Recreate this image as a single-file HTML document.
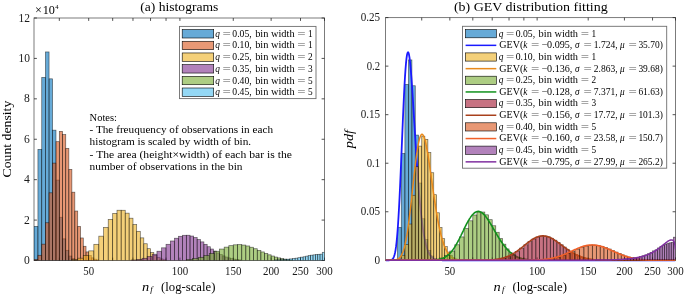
<!DOCTYPE html><html><head><meta charset="utf-8"><style>html,body{margin:0;padding:0;background:#fff;}svg{display:block;filter:blur(0.45px);}</style></head><body><svg width="685" height="296" viewBox="0 0 685 296"><defs><clipPath id="cl"><rect x="34.0" y="18.0" width="290.5" height="242.5"/></clipPath><clipPath id="cr"><rect x="385.5" y="17.6" width="290.0" height="242.7"/></clipPath></defs><rect x="34.0" y="18.0" width="290.5" height="242.5" fill="none" stroke="#6e6e6e" stroke-width="0.9"/><path d="M88.69 260.5v-2.9M88.69 18.0v2.9" stroke="#262626" stroke-width="0.8"/><path d="M179.91 260.5v-2.9M179.91 18.0v2.9" stroke="#262626" stroke-width="0.8"/><path d="M233.27 260.5v-2.9M233.27 18.0v2.9" stroke="#262626" stroke-width="0.8"/><path d="M271.14 260.5v-2.9M271.14 18.0v2.9" stroke="#262626" stroke-width="0.8"/><path d="M300.50 260.5v-2.9M300.50 18.0v2.9" stroke="#262626" stroke-width="0.8"/><path d="M324.50 260.5v-2.9M324.50 18.0v2.9" stroke="#262626" stroke-width="0.8"/><path d="M59.32 260.5v-2.9M59.32 18.0v2.9" stroke="#262626" stroke-width="0.8"/><path d="M112.68 260.5v-2.9M112.68 18.0v2.9" stroke="#262626" stroke-width="0.8"/><path d="M132.97 260.5v-2.9M132.97 18.0v2.9" stroke="#262626" stroke-width="0.8"/><path d="M150.54 260.5v-2.9M150.54 18.0v2.9" stroke="#262626" stroke-width="0.8"/><path d="M166.04 260.5v-2.9M166.04 18.0v2.9" stroke="#262626" stroke-width="0.8"/><path d="M34.0 260.50h2.9M324.5 260.50h-2.9" stroke="#262626" stroke-width="0.8"/><path d="M34.0 220.08h2.9M324.5 220.08h-2.9" stroke="#262626" stroke-width="0.8"/><path d="M34.0 179.67h2.9M324.5 179.67h-2.9" stroke="#262626" stroke-width="0.8"/><path d="M34.0 139.25h2.9M324.5 139.25h-2.9" stroke="#262626" stroke-width="0.8"/><path d="M34.0 98.83h2.9M324.5 98.83h-2.9" stroke="#262626" stroke-width="0.8"/><path d="M34.0 58.42h2.9M324.5 58.42h-2.9" stroke="#262626" stroke-width="0.8"/><path d="M34.0 18.00h2.9M324.5 18.00h-2.9" stroke="#262626" stroke-width="0.8"/><rect x="385.5" y="17.6" width="290.0" height="242.70000000000002" fill="none" stroke="#6e6e6e" stroke-width="0.9"/><path d="M449.84 260.3v-2.9M449.84 17.6v2.9" stroke="#262626" stroke-width="0.8"/><path d="M537.13 260.3v-2.9M537.13 17.6v2.9" stroke="#262626" stroke-width="0.8"/><path d="M588.20 260.3v-2.9M588.20 17.6v2.9" stroke="#262626" stroke-width="0.8"/><path d="M624.43 260.3v-2.9M624.43 17.6v2.9" stroke="#262626" stroke-width="0.8"/><path d="M652.54 260.3v-2.9M652.54 17.6v2.9" stroke="#262626" stroke-width="0.8"/><path d="M675.50 260.3v-2.9M675.50 17.6v2.9" stroke="#262626" stroke-width="0.8"/><path d="M421.73 260.3v-2.9M421.73 17.6v2.9" stroke="#262626" stroke-width="0.8"/><path d="M472.80 260.3v-2.9M472.80 17.6v2.9" stroke="#262626" stroke-width="0.8"/><path d="M492.21 260.3v-2.9M492.21 17.6v2.9" stroke="#262626" stroke-width="0.8"/><path d="M509.03 260.3v-2.9M509.03 17.6v2.9" stroke="#262626" stroke-width="0.8"/><path d="M523.87 260.3v-2.9M523.87 17.6v2.9" stroke="#262626" stroke-width="0.8"/><path d="M385.5 260.30h2.9M675.5 260.30h-2.9" stroke="#262626" stroke-width="0.8"/><path d="M385.5 211.76h2.9M675.5 211.76h-2.9" stroke="#262626" stroke-width="0.8"/><path d="M385.5 163.22h2.9M675.5 163.22h-2.9" stroke="#262626" stroke-width="0.8"/><path d="M385.5 114.68h2.9M675.5 114.68h-2.9" stroke="#262626" stroke-width="0.8"/><path d="M385.5 66.14h2.9M675.5 66.14h-2.9" stroke="#262626" stroke-width="0.8"/><path d="M385.5 17.60h2.9M675.5 17.60h-2.9" stroke="#262626" stroke-width="0.8"/><g clip-path="url(#cl)"><g fill="#0072BD" fill-opacity="0.6" stroke="#000" stroke-width="0.7" stroke-opacity="0.58"><rect x="34.00" y="226.35" width="3.93" height="34.15"/><rect x="37.93" y="149.35" width="3.82" height="111.15"/><rect x="41.74" y="77.41" width="3.71" height="183.09"/><rect x="45.45" y="51.95" width="3.61" height="208.55"/><rect x="49.06" y="78.83" width="3.51" height="181.67"/><rect x="52.57" y="130.16" width="3.42" height="130.34"/><rect x="55.99" y="180.07" width="3.33" height="80.43"/><rect x="59.32" y="217.25" width="3.25" height="43.25"/><rect x="62.57" y="238.85" width="3.17" height="21.65"/><rect x="65.74" y="250.29" width="3.10" height="10.21"/><rect x="68.84" y="256.04" width="3.03" height="4.46"/><rect x="71.86" y="258.71" width="2.96" height="1.79"/><rect x="74.82" y="259.85" width="2.89" height="0.65"/></g><g fill="#D95319" fill-opacity="0.6" stroke="#000" stroke-width="0.7" stroke-opacity="0.58"><rect x="34.00" y="259.35" width="3.93" height="1.15"/><rect x="37.93" y="255.29" width="3.82" height="5.21"/><rect x="41.74" y="244.15" width="3.71" height="16.35"/><rect x="45.45" y="222.76" width="3.61" height="37.74"/><rect x="49.06" y="192.82" width="3.51" height="67.68"/><rect x="52.57" y="163.10" width="3.42" height="97.40"/><rect x="55.99" y="141.68" width="3.33" height="118.82"/><rect x="59.32" y="131.37" width="3.25" height="129.13"/><rect x="62.57" y="134.60" width="3.17" height="125.90"/><rect x="65.74" y="148.34" width="3.10" height="112.16"/><rect x="68.84" y="169.36" width="3.03" height="91.14"/><rect x="71.86" y="192.20" width="2.96" height="68.30"/><rect x="74.82" y="211.04" width="2.89" height="49.46"/><rect x="77.71" y="226.36" width="2.83" height="34.14"/><rect x="80.54" y="237.97" width="2.77" height="22.53"/><rect x="83.31" y="246.28" width="2.71" height="14.22"/><rect x="86.03" y="251.93" width="2.66" height="8.57"/><rect x="88.69" y="255.59" width="2.61" height="4.91"/><rect x="91.29" y="257.85" width="2.56" height="2.65"/><rect x="93.85" y="259.16" width="2.51" height="1.34"/><rect x="96.35" y="259.88" width="2.46" height="0.62"/></g><g fill="#EDB120" fill-opacity="0.6" stroke="#000" stroke-width="0.7" stroke-opacity="0.58"><rect x="71.86" y="259.59" width="5.85" height="0.91"/><rect x="77.71" y="258.18" width="5.60" height="2.32"/><rect x="83.31" y="255.44" width="5.37" height="5.06"/><rect x="88.69" y="250.87" width="5.16" height="9.63"/><rect x="93.85" y="244.31" width="4.97" height="16.19"/><rect x="98.81" y="236.17" width="4.79" height="24.33"/><rect x="103.60" y="227.42" width="4.62" height="33.08"/><rect x="108.22" y="219.39" width="4.46" height="41.11"/><rect x="112.68" y="213.37" width="4.32" height="47.13"/><rect x="117.00" y="210.24" width="4.18" height="50.26"/><rect x="121.18" y="210.27" width="4.05" height="50.23"/><rect x="125.23" y="213.16" width="3.93" height="47.34"/><rect x="129.15" y="218.21" width="3.82" height="42.29"/><rect x="132.97" y="224.55" width="3.71" height="35.95"/><rect x="136.68" y="231.33" width="3.61" height="29.17"/><rect x="140.28" y="237.88" width="3.51" height="22.62"/><rect x="143.79" y="243.74" width="3.42" height="16.76"/><rect x="147.21" y="248.66" width="3.33" height="11.84"/><rect x="150.54" y="252.56" width="3.25" height="7.94"/><rect x="153.79" y="255.49" width="3.17" height="5.01"/><rect x="156.96" y="257.56" width="3.10" height="2.94"/><rect x="160.06" y="258.93" width="3.03" height="1.57"/><rect x="163.09" y="259.76" width="2.96" height="0.74"/></g><g fill="#7E2F8E" fill-opacity="0.6" stroke="#000" stroke-width="0.7" stroke-opacity="0.58"><rect x="131.08" y="259.98" width="5.60" height="0.52"/><rect x="136.68" y="259.36" width="5.37" height="1.14"/><rect x="142.05" y="258.28" width="5.16" height="2.22"/><rect x="147.21" y="256.59" width="4.97" height="3.91"/><rect x="152.18" y="254.22" width="4.79" height="6.28"/><rect x="156.96" y="251.24" width="4.62" height="9.26"/><rect x="161.58" y="247.84" width="4.46" height="12.66"/><rect x="166.04" y="244.30" width="4.32" height="16.20"/><rect x="170.36" y="240.99" width="4.18" height="19.51"/><rect x="174.54" y="238.24" width="4.05" height="22.26"/><rect x="178.59" y="236.29" width="3.93" height="24.21"/><rect x="182.52" y="235.29" width="3.82" height="25.21"/><rect x="186.33" y="235.24" width="3.71" height="25.26"/><rect x="190.04" y="236.05" width="3.61" height="24.45"/><rect x="193.65" y="237.56" width="3.51" height="22.94"/><rect x="197.16" y="239.57" width="3.42" height="20.93"/><rect x="200.57" y="241.89" width="3.33" height="18.61"/><rect x="203.91" y="244.33" width="3.25" height="16.17"/><rect x="207.16" y="246.74" width="3.17" height="13.76"/><rect x="210.33" y="249.03" width="3.10" height="11.47"/><rect x="213.42" y="251.12" width="3.03" height="9.38"/><rect x="216.45" y="252.97" width="2.96" height="7.53"/><rect x="219.41" y="254.56" width="2.89" height="5.94"/><rect x="222.30" y="255.89" width="2.83" height="4.61"/><rect x="225.13" y="257.00" width="2.77" height="3.50"/><rect x="227.90" y="257.89" width="2.71" height="2.61"/><rect x="230.62" y="258.59" width="2.66" height="1.91"/><rect x="233.27" y="259.13" width="2.61" height="1.37"/><rect x="235.88" y="259.54" width="2.56" height="0.96"/><rect x="238.44" y="259.85" width="2.51" height="0.65"/></g><g fill="#77AC30" fill-opacity="0.6" stroke="#000" stroke-width="0.7" stroke-opacity="0.58"><rect x="186.33" y="259.50" width="6.12" height="1.00"/><rect x="192.46" y="258.63" width="5.85" height="1.87"/><rect x="198.31" y="257.33" width="5.60" height="3.17"/><rect x="203.91" y="255.60" width="5.37" height="4.90"/><rect x="209.28" y="253.52" width="5.16" height="6.98"/><rect x="214.44" y="251.26" width="4.97" height="9.24"/><rect x="219.41" y="249.05" width="4.79" height="11.45"/><rect x="224.19" y="247.12" width="4.62" height="13.38"/><rect x="228.81" y="245.67" width="4.46" height="14.83"/><rect x="233.27" y="244.83" width="4.32" height="15.67"/><rect x="237.59" y="244.64" width="4.18" height="15.86"/><rect x="241.77" y="245.05" width="4.05" height="15.45"/><rect x="245.82" y="245.96" width="3.93" height="14.54"/><rect x="249.75" y="247.24" width="3.82" height="13.26"/><rect x="253.56" y="248.74" width="3.71" height="11.76"/><rect x="257.27" y="250.35" width="3.61" height="10.15"/><rect x="260.88" y="251.94" width="3.51" height="8.56"/><rect x="264.39" y="253.45" width="3.42" height="7.05"/><rect x="267.80" y="254.82" width="3.33" height="5.68"/><rect x="271.14" y="256.02" width="3.25" height="4.48"/><rect x="274.39" y="257.05" width="3.17" height="3.45"/><rect x="277.56" y="257.89" width="3.10" height="2.61"/><rect x="280.65" y="258.58" width="3.03" height="1.92"/><rect x="283.68" y="259.12" width="2.96" height="1.38"/><rect x="286.64" y="259.53" width="2.89" height="0.97"/><rect x="289.53" y="259.84" width="2.83" height="0.66"/></g><g fill="#4DBEEE" fill-opacity="0.6" stroke="#000" stroke-width="0.7" stroke-opacity="0.58"><rect x="274.39" y="259.93" width="3.17" height="0.57"/><rect x="277.56" y="259.79" width="3.10" height="0.71"/><rect x="280.65" y="259.62" width="3.03" height="0.88"/><rect x="283.68" y="259.42" width="2.96" height="1.08"/><rect x="286.64" y="259.19" width="2.89" height="1.31"/><rect x="289.53" y="258.90" width="2.83" height="1.60"/><rect x="292.36" y="258.57" width="2.77" height="1.93"/><rect x="295.13" y="258.17" width="2.71" height="2.33"/><rect x="297.85" y="257.68" width="2.66" height="2.82"/><rect x="300.50" y="257.17" width="2.61" height="3.33"/><rect x="303.11" y="256.79" width="2.56" height="3.71"/><rect x="305.67" y="256.14" width="2.51" height="4.36"/><rect x="308.17" y="255.55" width="2.46" height="4.95"/><rect x="310.63" y="255.18" width="2.41" height="5.32"/><rect x="313.05" y="254.87" width="2.37" height="5.63"/><rect x="315.42" y="254.56" width="2.33" height="5.94"/><rect x="317.75" y="254.32" width="2.29" height="6.18"/><rect x="320.04" y="254.14" width="2.25" height="6.36"/><rect x="322.29" y="252.32" width="2.21" height="8.18"/></g></g><defs><clipPath id="cr2"><rect x="385.5" y="17.6" width="290.0" height="245.2"/></clipPath></defs><g clip-path="url(#cr)"><g fill="#0072BD" fill-opacity="0.6" stroke="#000" stroke-width="0.7" stroke-opacity="0.58"><rect x="397.50" y="227.49" width="3.76" height="32.81"/><rect x="401.26" y="153.51" width="3.65" height="106.79"/><rect x="404.91" y="84.39" width="3.55" height="175.91"/><rect x="408.46" y="59.93" width="3.45" height="200.37"/><rect x="411.91" y="85.75" width="3.36" height="174.55"/><rect x="415.27" y="135.07" width="3.27" height="125.23"/><rect x="418.54" y="183.02" width="3.19" height="77.28"/><rect x="421.73" y="218.75" width="3.11" height="41.55"/><rect x="424.84" y="239.49" width="3.03" height="20.81"/><rect x="427.88" y="250.49" width="2.96" height="9.81"/><rect x="430.84" y="256.02" width="2.90" height="4.28"/><rect x="433.74" y="258.58" width="2.83" height="1.72"/><rect x="436.57" y="259.67" width="2.77" height="0.63"/></g></g><polyline clip-path="url(#cr2)" fill="none" stroke="#1a1aff" stroke-width="1.8" stroke-linejoin="round" points="385.5,260.3 386.0,260.3 386.5,260.3 387.0,260.3 387.5,260.3 388.0,260.3 388.5,260.3 389.0,260.3 389.5,260.2 390.0,260.2 390.5,260.1 391.0,260.0 391.5,259.8 392.0,259.6 392.5,259.1 393.0,258.6 393.5,257.7 394.0,256.5 394.5,255.0 395.0,252.9 395.5,250.3 396.0,246.9 396.5,242.8 397.0,237.8 397.5,231.9 398.0,225.0 398.5,217.1 399.0,208.3 399.5,198.6 400.0,188.1 400.5,176.9 401.0,165.1 401.5,153.1 402.0,140.9 402.5,128.8 403.0,117.0 403.5,105.7 404.0,95.1 404.5,85.4 405.0,76.8 405.5,69.4 406.0,63.2 406.5,58.4 407.0,54.9 407.5,52.9 408.0,52.2 408.5,52.8 409.0,54.6 409.5,57.6 410.0,61.7 410.5,66.7 411.0,72.5 411.5,78.9 412.0,86.0 412.5,93.5 413.0,101.3 413.5,109.4 414.0,117.6 414.5,125.9 415.0,134.1 415.5,142.2 416.0,150.1 416.5,157.9 417.0,165.4 417.5,172.6 418.0,179.5 418.5,186.0 419.0,192.2 419.5,198.1 420.0,203.5 420.5,208.7 421.0,213.5 421.5,217.9 422.0,222.1 422.5,225.9 423.0,229.4 423.5,232.6 424.0,235.5 424.5,238.2 425.0,240.6 425.5,242.8 426.0,244.8 426.5,246.6 427.0,248.3 427.5,249.7 428.0,251.0 428.5,252.2 429.0,253.2 429.5,254.2 430.0,255.0 430.5,255.7 431.0,256.3 431.5,256.9 432.0,257.4 432.5,257.8 433.0,258.2 433.5,258.5 434.0,258.8 434.5,259.0 435.0,259.2 435.5,259.4 436.0,259.6 436.5,259.7 437.0,259.8 437.5,259.9 438.0,260.0 438.5,260.0 439.0,260.1 439.5,260.1 440.0,260.2 440.5,260.2 441.0,260.2 441.5,260.2 442.0,260.2 442.5,260.3 443.0,260.3 443.5,260.3 444.0,260.3 444.5,260.3 445.0,260.3 445.5,260.3 446.0,260.3 446.5,260.3 447.0,260.3 447.5,260.3 448.0,260.3 448.5,260.3 449.0,260.3 449.5,260.3 450.0,260.3 450.5,260.3 451.0,260.3 451.5,260.3 452.0,260.3 452.5,260.3 453.0,260.3 453.5,260.3 454.0,260.3 454.5,260.3 455.0,260.3 455.5,260.3 456.0,260.3 456.5,260.3 457.0,260.3 457.5,260.3 458.0,260.3 458.5,260.3 459.0,260.3 459.5,260.3 460.0,260.3 460.5,260.3 461.0,260.3 461.5,260.3 462.0,260.3 462.5,260.3 463.0,260.3 463.5,260.3 464.0,260.3 464.5,260.3 465.0,260.3 465.5,260.3 466.0,260.3 466.5,260.3 467.0,260.3 467.5,260.3 468.0,260.3 468.5,260.3 469.0,260.3 469.5,260.3 470.0,260.3 470.5,260.3 471.0,260.3 471.5,260.3 472.0,260.3 472.5,260.3 473.0,260.3 473.5,260.3 474.0,260.3 474.5,260.3 475.0,260.3 475.5,260.3 476.0,260.3 476.5,260.3 477.0,260.3 477.5,260.3 478.0,260.3 478.5,260.3 479.0,260.3 479.5,260.3 480.0,260.3 480.5,260.3 481.0,260.3 481.5,260.3 482.0,260.3 482.5,260.3 483.0,260.3 483.5,260.3 484.0,260.3 484.5,260.3 485.0,260.3 485.5,260.3 486.0,260.3 486.5,260.3 487.0,260.3 487.5,260.3 488.0,260.3 488.5,260.3 489.0,260.3 489.5,260.3 490.0,260.3 490.5,260.3 491.0,260.3 491.5,260.3 492.0,260.3 492.5,260.3 493.0,260.3 493.5,260.3 494.0,260.3 494.5,260.3 495.0,260.3 495.5,260.3 496.0,260.3 496.5,260.3 497.0,260.3 497.5,260.3 498.0,260.3 498.5,260.3 499.0,260.3 499.5,260.3 500.0,260.3 500.5,260.3 501.0,260.3 501.5,260.3 502.0,260.3 502.5,260.3 503.0,260.3 503.5,260.3 504.0,260.3 504.5,260.3 505.0,260.3 505.5,260.3 506.0,260.3 506.5,260.3 507.0,260.3 507.5,260.3 508.0,260.3 508.5,260.3 509.0,260.3 509.5,260.3 510.0,260.3 510.5,260.3 511.0,260.3 511.5,260.3 512.0,260.3 512.5,260.3 513.0,260.3 513.5,260.3 514.0,260.3 514.5,260.3 515.0,260.3 515.5,260.3 516.0,260.3 516.5,260.3 517.0,260.3 517.5,260.3 518.0,260.3 518.5,260.3 519.0,260.3 519.5,260.3 520.0,260.3 520.5,260.3 521.0,260.3 521.5,260.3 522.0,260.3 522.5,260.3 523.0,260.3 523.5,260.3 524.0,260.3 524.5,260.3 525.0,260.3 525.5,260.3 526.0,260.3 526.5,260.3 527.0,260.3 527.5,260.3 528.0,260.3 528.5,260.3 529.0,260.3 529.5,260.3 530.0,260.3 530.5,260.3 531.0,260.3 531.5,260.3 532.0,260.3 532.5,260.3 533.0,260.3 533.5,260.3 534.0,260.3 534.5,260.3 535.0,260.3 535.5,260.3 536.0,260.3 536.5,260.3 537.0,260.3 537.5,260.3 538.0,260.3 538.5,260.3 539.0,260.3 539.5,260.3 540.0,260.3 540.5,260.3 541.0,260.3 541.5,260.3 542.0,260.3 542.5,260.3 543.0,260.3 543.5,260.3 544.0,260.3 544.5,260.3 545.0,260.3 545.5,260.3 546.0,260.3 546.5,260.3 547.0,260.3 547.5,260.3 548.0,260.3 548.5,260.3 549.0,260.3 549.5,260.3 550.0,260.3 550.5,260.3 551.0,260.3 551.5,260.3 552.0,260.3 552.5,260.3 553.0,260.3 553.5,260.3 554.0,260.3 554.5,260.3 555.0,260.3 555.5,260.3 556.0,260.3 556.5,260.3 557.0,260.3 557.5,260.3 558.0,260.3 558.5,260.3 559.0,260.3 559.5,260.3 560.0,260.3 560.5,260.3 561.0,260.3 561.5,260.3 562.0,260.3 562.5,260.3 563.0,260.3 563.5,260.3 564.0,260.3 564.5,260.3 565.0,260.3 565.5,260.3 566.0,260.3 566.5,260.3 567.0,260.3 567.5,260.3 568.0,260.3 568.5,260.3 569.0,260.3 569.5,260.3 570.0,260.3 570.5,260.3 571.0,260.3 571.5,260.3 572.0,260.3 572.5,260.3 573.0,260.3 573.5,260.3 574.0,260.3 574.5,260.3 575.0,260.3 575.5,260.3 576.0,260.3 576.5,260.3 577.0,260.3 577.5,260.3 578.0,260.3 578.5,260.3 579.0,260.3 579.5,260.3 580.0,260.3 580.5,260.3 581.0,260.3 581.5,260.3 582.0,260.3 582.5,260.3 583.0,260.3 583.5,260.3 584.0,260.3 584.5,260.3 585.0,260.3 585.5,260.3 586.0,260.3 586.5,260.3 587.0,260.3 587.5,260.3 588.0,260.3 588.5,260.3 589.0,260.3 589.5,260.3 590.0,260.3 590.5,260.3 591.0,260.3 591.5,260.3 592.0,260.3 592.5,260.3 593.0,260.3 593.5,260.3 594.0,260.3 594.5,260.3 595.0,260.3 595.5,260.3 596.0,260.3 596.5,260.3 597.0,260.3 597.5,260.3 598.0,260.3 598.5,260.3 599.0,260.3 599.5,260.3 600.0,260.3 600.5,260.3 601.0,260.3 601.5,260.3 602.0,260.3 602.5,260.3 603.0,260.3 603.5,260.3 604.0,260.3 604.5,260.3 605.0,260.3 605.5,260.3 606.0,260.3 606.5,260.3 607.0,260.3 607.5,260.3 608.0,260.3 608.5,260.3 609.0,260.3 609.5,260.3 610.0,260.3 610.5,260.3 611.0,260.3 611.5,260.3 612.0,260.3 612.5,260.3 613.0,260.3 613.5,260.3 614.0,260.3 614.5,260.3 615.0,260.3 615.5,260.3 616.0,260.3 616.5,260.3 617.0,260.3 617.5,260.3 618.0,260.3 618.5,260.3 619.0,260.3 619.5,260.3 620.0,260.3 620.5,260.3 621.0,260.3 621.5,260.3 622.0,260.3 622.5,260.3 623.0,260.3 623.5,260.3 624.0,260.3 624.5,260.3 625.0,260.3 625.5,260.3 626.0,260.3 626.5,260.3 627.0,260.3 627.5,260.3 628.0,260.3 628.5,260.3 629.0,260.3 629.5,260.3 630.0,260.3 630.5,260.3 631.0,260.3 631.5,260.3 632.0,260.3 632.5,260.3 633.0,260.3 633.5,260.3 634.0,260.3 634.5,260.3 635.0,260.3 635.5,260.3 636.0,260.3 636.5,260.3 637.0,260.3 637.5,260.3 638.0,260.3 638.5,260.3 639.0,260.3 639.5,260.3 640.0,260.3 640.5,260.3 641.0,260.3 641.5,260.3 642.0,260.3 642.5,260.3 643.0,260.3 643.5,260.3 644.0,260.3 644.5,260.3 645.0,260.3 645.5,260.3 646.0,260.3 646.5,260.3 647.0,260.3 647.5,260.3 648.0,260.3 648.5,260.3 649.0,260.3 649.5,260.3 650.0,260.3 650.5,260.3 651.0,260.3 651.5,260.3 652.0,260.3 652.5,260.3 653.0,260.3 653.5,260.3 654.0,260.3 654.5,260.3 655.0,260.3 655.5,260.3 656.0,260.3 656.5,260.3 657.0,260.3 657.5,260.3 658.0,260.3 658.5,260.3 659.0,260.3 659.5,260.3 660.0,260.3 660.5,260.3 661.0,260.3 661.5,260.3 662.0,260.3 662.5,260.3 663.0,260.3 663.5,260.3 664.0,260.3 664.5,260.3 665.0,260.3 665.5,260.3 666.0,260.3 666.5,260.3 667.0,260.3 667.5,260.3 668.0,260.3 668.5,260.3 669.0,260.3 669.5,260.3 670.0,260.3 670.5,260.3 671.0,260.3 671.5,260.3 672.0,260.3 672.5,260.3 673.0,260.3 673.5,260.3 674.0,260.3 674.5,260.3 675.0,260.3 675.5,260.3"/><g clip-path="url(#cr)"><g fill="#EDB120" fill-opacity="0.6" stroke="#000" stroke-width="0.7" stroke-opacity="0.58"><rect x="397.50" y="259.20" width="3.76" height="1.10"/><rect x="401.26" y="255.29" width="3.65" height="5.01"/><rect x="404.91" y="244.59" width="3.55" height="15.71"/><rect x="408.46" y="224.04" width="3.45" height="36.26"/><rect x="411.91" y="195.28" width="3.36" height="65.02"/><rect x="415.27" y="166.71" width="3.27" height="93.59"/><rect x="418.54" y="146.13" width="3.19" height="114.17"/><rect x="421.73" y="136.23" width="3.11" height="124.07"/><rect x="424.84" y="139.34" width="3.03" height="120.96"/><rect x="427.88" y="152.54" width="2.96" height="107.76"/><rect x="430.84" y="172.73" width="2.90" height="87.57"/><rect x="433.74" y="194.68" width="2.83" height="65.62"/><rect x="436.57" y="212.78" width="2.77" height="47.52"/><rect x="439.33" y="227.50" width="2.71" height="32.80"/><rect x="442.04" y="238.66" width="2.65" height="21.64"/><rect x="444.69" y="246.64" width="2.60" height="13.66"/><rect x="447.29" y="252.07" width="2.54" height="8.23"/><rect x="449.84" y="255.59" width="2.49" height="4.71"/><rect x="452.33" y="257.75" width="2.45" height="2.55"/><rect x="454.78" y="259.01" width="2.40" height="1.29"/><rect x="457.17" y="259.70" width="2.35" height="0.60"/></g></g><polyline clip-path="url(#cr2)" fill="none" stroke="#e8891c" stroke-width="1.5" stroke-linejoin="round" points="385.5,260.3 386.0,260.3 386.5,260.3 387.0,260.3 387.5,260.3 388.0,260.3 388.5,260.3 389.0,260.3 389.5,260.3 390.0,260.3 390.5,260.3 391.0,260.3 391.5,260.3 392.0,260.3 392.5,260.2 393.0,260.2 393.5,260.2 394.0,260.1 394.5,260.1 395.0,260.0 395.5,259.9 396.0,259.8 396.5,259.7 397.0,259.5 397.5,259.3 398.0,259.1 398.5,258.7 399.0,258.4 399.5,257.9 400.0,257.4 400.5,256.8 401.0,256.0 401.5,255.2 402.0,254.2 402.5,253.0 403.0,251.7 403.5,250.2 404.0,248.6 404.5,246.7 405.0,244.7 405.5,242.4 406.0,239.9 406.5,237.2 407.0,234.3 407.5,231.1 408.0,227.7 408.5,224.1 409.0,220.4 409.5,216.4 410.0,212.3 410.5,208.0 411.0,203.6 411.5,199.1 412.0,194.5 412.5,189.9 413.0,185.3 413.5,180.7 414.0,176.2 414.5,171.8 415.0,167.4 415.5,163.3 416.0,159.3 416.5,155.6 417.0,152.0 417.5,148.8 418.0,145.8 418.5,143.2 419.0,140.9 419.5,138.9 420.0,137.3 420.5,136.0 421.0,135.1 421.5,134.5 422.0,134.3 422.5,134.5 423.0,135.0 423.5,135.8 424.0,137.0 424.5,138.4 425.0,140.1 425.5,142.1 426.0,144.4 426.5,146.8 427.0,149.5 427.5,152.3 428.0,155.3 428.5,158.5 429.0,161.8 429.5,165.1 430.0,168.5 430.5,172.0 431.0,175.6 431.5,179.1 432.0,182.7 432.5,186.2 433.0,189.7 433.5,193.2 434.0,196.6 434.5,199.9 435.0,203.2 435.5,206.4 436.0,209.5 436.5,212.5 437.0,215.4 437.5,218.3 438.0,221.0 438.5,223.6 439.0,226.0 439.5,228.4 440.0,230.7 440.5,232.8 441.0,234.9 441.5,236.8 442.0,238.6 442.5,240.4 443.0,242.0 443.5,243.5 444.0,244.9 444.5,246.3 445.0,247.5 445.5,248.7 446.0,249.7 446.5,250.7 447.0,251.6 447.5,252.5 448.0,253.3 448.5,254.0 449.0,254.7 449.5,255.3 450.0,255.8 450.5,256.3 451.0,256.8 451.5,257.2 452.0,257.6 452.5,257.9 453.0,258.2 453.5,258.5 454.0,258.7 454.5,258.9 455.0,259.1 455.5,259.3 456.0,259.4 456.5,259.6 457.0,259.7 457.5,259.8 458.0,259.9 458.5,259.9 459.0,260.0 459.5,260.1 460.0,260.1 460.5,260.1 461.0,260.2 461.5,260.2 462.0,260.2 462.5,260.2 463.0,260.3 463.5,260.3 464.0,260.3 464.5,260.3 465.0,260.3 465.5,260.3 466.0,260.3 466.5,260.3 467.0,260.3 467.5,260.3 468.0,260.3 468.5,260.3 469.0,260.3 469.5,260.3 470.0,260.3 470.5,260.3 471.0,260.3 471.5,260.3 472.0,260.3 472.5,260.3 473.0,260.3 473.5,260.3 474.0,260.3 474.5,260.3 475.0,260.3 475.5,260.3 476.0,260.3 476.5,260.3 477.0,260.3 477.5,260.3 478.0,260.3 478.5,260.3 479.0,260.3 479.5,260.3 480.0,260.3 480.5,260.3 481.0,260.3 481.5,260.3 482.0,260.3 482.5,260.3 483.0,260.3 483.5,260.3 484.0,260.3 484.5,260.3 485.0,260.3 485.5,260.3 486.0,260.3 486.5,260.3 487.0,260.3 487.5,260.3 488.0,260.3 488.5,260.3 489.0,260.3 489.5,260.3 490.0,260.3 490.5,260.3 491.0,260.3 491.5,260.3 492.0,260.3 492.5,260.3 493.0,260.3 493.5,260.3 494.0,260.3 494.5,260.3 495.0,260.3 495.5,260.3 496.0,260.3 496.5,260.3 497.0,260.3 497.5,260.3 498.0,260.3 498.5,260.3 499.0,260.3 499.5,260.3 500.0,260.3 500.5,260.3 501.0,260.3 501.5,260.3 502.0,260.3 502.5,260.3 503.0,260.3 503.5,260.3 504.0,260.3 504.5,260.3 505.0,260.3 505.5,260.3 506.0,260.3 506.5,260.3 507.0,260.3 507.5,260.3 508.0,260.3 508.5,260.3 509.0,260.3 509.5,260.3 510.0,260.3 510.5,260.3 511.0,260.3 511.5,260.3 512.0,260.3 512.5,260.3 513.0,260.3 513.5,260.3 514.0,260.3 514.5,260.3 515.0,260.3 515.5,260.3 516.0,260.3 516.5,260.3 517.0,260.3 517.5,260.3 518.0,260.3 518.5,260.3 519.0,260.3 519.5,260.3 520.0,260.3 520.5,260.3 521.0,260.3 521.5,260.3 522.0,260.3 522.5,260.3 523.0,260.3 523.5,260.3 524.0,260.3 524.5,260.3 525.0,260.3 525.5,260.3 526.0,260.3 526.5,260.3 527.0,260.3 527.5,260.3 528.0,260.3 528.5,260.3 529.0,260.3 529.5,260.3 530.0,260.3 530.5,260.3 531.0,260.3 531.5,260.3 532.0,260.3 532.5,260.3 533.0,260.3 533.5,260.3 534.0,260.3 534.5,260.3 535.0,260.3 535.5,260.3 536.0,260.3 536.5,260.3 537.0,260.3 537.5,260.3 538.0,260.3 538.5,260.3 539.0,260.3 539.5,260.3 540.0,260.3 540.5,260.3 541.0,260.3 541.5,260.3 542.0,260.3 542.5,260.3 543.0,260.3 543.5,260.3 544.0,260.3 544.5,260.3 545.0,260.3 545.5,260.3 546.0,260.3 546.5,260.3 547.0,260.3 547.5,260.3 548.0,260.3 548.5,260.3 549.0,260.3 549.5,260.3 550.0,260.3 550.5,260.3 551.0,260.3 551.5,260.3 552.0,260.3 552.5,260.3 553.0,260.3 553.5,260.3 554.0,260.3 554.5,260.3 555.0,260.3 555.5,260.3 556.0,260.3 556.5,260.3 557.0,260.3 557.5,260.3 558.0,260.3 558.5,260.3 559.0,260.3 559.5,260.3 560.0,260.3 560.5,260.3 561.0,260.3 561.5,260.3 562.0,260.3 562.5,260.3 563.0,260.3 563.5,260.3 564.0,260.3 564.5,260.3 565.0,260.3 565.5,260.3 566.0,260.3 566.5,260.3 567.0,260.3 567.5,260.3 568.0,260.3 568.5,260.3 569.0,260.3 569.5,260.3 570.0,260.3 570.5,260.3 571.0,260.3 571.5,260.3 572.0,260.3 572.5,260.3 573.0,260.3 573.5,260.3 574.0,260.3 574.5,260.3 575.0,260.3 575.5,260.3 576.0,260.3 576.5,260.3 577.0,260.3 577.5,260.3 578.0,260.3 578.5,260.3 579.0,260.3 579.5,260.3 580.0,260.3 580.5,260.3 581.0,260.3 581.5,260.3 582.0,260.3 582.5,260.3 583.0,260.3 583.5,260.3 584.0,260.3 584.5,260.3 585.0,260.3 585.5,260.3 586.0,260.3 586.5,260.3 587.0,260.3 587.5,260.3 588.0,260.3 588.5,260.3 589.0,260.3 589.5,260.3 590.0,260.3 590.5,260.3 591.0,260.3 591.5,260.3 592.0,260.3 592.5,260.3 593.0,260.3 593.5,260.3 594.0,260.3 594.5,260.3 595.0,260.3 595.5,260.3 596.0,260.3 596.5,260.3 597.0,260.3 597.5,260.3 598.0,260.3 598.5,260.3 599.0,260.3 599.5,260.3 600.0,260.3 600.5,260.3 601.0,260.3 601.5,260.3 602.0,260.3 602.5,260.3 603.0,260.3 603.5,260.3 604.0,260.3 604.5,260.3 605.0,260.3 605.5,260.3 606.0,260.3 606.5,260.3 607.0,260.3 607.5,260.3 608.0,260.3 608.5,260.3 609.0,260.3 609.5,260.3 610.0,260.3 610.5,260.3 611.0,260.3 611.5,260.3 612.0,260.3 612.5,260.3 613.0,260.3 613.5,260.3 614.0,260.3 614.5,260.3 615.0,260.3 615.5,260.3 616.0,260.3 616.5,260.3 617.0,260.3 617.5,260.3 618.0,260.3 618.5,260.3 619.0,260.3 619.5,260.3 620.0,260.3 620.5,260.3 621.0,260.3 621.5,260.3 622.0,260.3 622.5,260.3 623.0,260.3 623.5,260.3 624.0,260.3 624.5,260.3 625.0,260.3 625.5,260.3 626.0,260.3 626.5,260.3 627.0,260.3 627.5,260.3 628.0,260.3 628.5,260.3 629.0,260.3 629.5,260.3 630.0,260.3 630.5,260.3 631.0,260.3 631.5,260.3 632.0,260.3 632.5,260.3 633.0,260.3 633.5,260.3 634.0,260.3 634.5,260.3 635.0,260.3 635.5,260.3 636.0,260.3 636.5,260.3 637.0,260.3 637.5,260.3 638.0,260.3 638.5,260.3 639.0,260.3 639.5,260.3 640.0,260.3 640.5,260.3 641.0,260.3 641.5,260.3 642.0,260.3 642.5,260.3 643.0,260.3 643.5,260.3 644.0,260.3 644.5,260.3 645.0,260.3 645.5,260.3 646.0,260.3 646.5,260.3 647.0,260.3 647.5,260.3 648.0,260.3 648.5,260.3 649.0,260.3 649.5,260.3 650.0,260.3 650.5,260.3 651.0,260.3 651.5,260.3 652.0,260.3 652.5,260.3 653.0,260.3 653.5,260.3 654.0,260.3 654.5,260.3 655.0,260.3 655.5,260.3 656.0,260.3 656.5,260.3 657.0,260.3 657.5,260.3 658.0,260.3 658.5,260.3 659.0,260.3 659.5,260.3 660.0,260.3 660.5,260.3 661.0,260.3 661.5,260.3 662.0,260.3 662.5,260.3 663.0,260.3 663.5,260.3 664.0,260.3 664.5,260.3 665.0,260.3 665.5,260.3 666.0,260.3 666.5,260.3 667.0,260.3 667.5,260.3 668.0,260.3 668.5,260.3 669.0,260.3 669.5,260.3 670.0,260.3 670.5,260.3 671.0,260.3 671.5,260.3 672.0,260.3 672.5,260.3 673.0,260.3 673.5,260.3 674.0,260.3 674.5,260.3 675.0,260.3 675.5,260.3"/><g clip-path="url(#cr)"><g fill="#77AC30" fill-opacity="0.6" stroke="#000" stroke-width="0.7" stroke-opacity="0.58"><rect x="433.74" y="259.42" width="5.60" height="0.88"/><rect x="439.33" y="258.07" width="5.36" height="2.23"/><rect x="444.69" y="255.44" width="5.14" height="4.86"/><rect x="449.84" y="251.05" width="4.94" height="9.25"/><rect x="454.78" y="244.75" width="4.75" height="15.55"/><rect x="459.53" y="236.92" width="4.58" height="23.38"/><rect x="464.11" y="228.52" width="4.42" height="31.78"/><rect x="468.53" y="220.80" width="4.27" height="39.50"/><rect x="472.80" y="215.02" width="4.13" height="45.28"/><rect x="476.93" y="212.01" width="4.00" height="48.29"/><rect x="480.93" y="212.04" width="3.88" height="48.26"/><rect x="484.80" y="214.82" width="3.76" height="45.48"/><rect x="488.56" y="219.67" width="3.65" height="40.63"/><rect x="492.21" y="225.76" width="3.55" height="34.54"/><rect x="495.76" y="232.28" width="3.45" height="28.02"/><rect x="499.21" y="238.57" width="3.36" height="21.73"/><rect x="502.57" y="244.20" width="3.27" height="16.10"/><rect x="505.84" y="248.92" width="3.19" height="11.38"/><rect x="509.03" y="252.67" width="3.11" height="7.63"/><rect x="512.14" y="255.48" width="3.03" height="4.82"/><rect x="515.18" y="257.47" width="2.96" height="2.83"/><rect x="518.14" y="258.79" width="2.90" height="1.51"/><rect x="521.03" y="259.59" width="2.83" height="0.71"/></g></g><polyline clip-path="url(#cr2)" fill="none" stroke="#11911c" stroke-width="1.6" stroke-linejoin="round" points="385.5,260.3 386.0,260.3 386.5,260.3 387.0,260.3 387.5,260.3 388.0,260.3 388.5,260.3 389.0,260.3 389.5,260.3 390.0,260.3 390.5,260.3 391.0,260.3 391.5,260.3 392.0,260.3 392.5,260.3 393.0,260.3 393.5,260.3 394.0,260.3 394.5,260.3 395.0,260.3 395.5,260.3 396.0,260.3 396.5,260.3 397.0,260.3 397.5,260.3 398.0,260.3 398.5,260.3 399.0,260.3 399.5,260.3 400.0,260.3 400.5,260.3 401.0,260.3 401.5,260.3 402.0,260.3 402.5,260.3 403.0,260.3 403.5,260.3 404.0,260.3 404.5,260.3 405.0,260.3 405.5,260.3 406.0,260.3 406.5,260.3 407.0,260.3 407.5,260.3 408.0,260.3 408.5,260.3 409.0,260.3 409.5,260.3 410.0,260.3 410.5,260.3 411.0,260.3 411.5,260.3 412.0,260.3 412.5,260.3 413.0,260.3 413.5,260.3 414.0,260.3 414.5,260.3 415.0,260.3 415.5,260.3 416.0,260.3 416.5,260.3 417.0,260.3 417.5,260.3 418.0,260.3 418.5,260.3 419.0,260.3 419.5,260.3 420.0,260.3 420.5,260.3 421.0,260.3 421.5,260.3 422.0,260.3 422.5,260.3 423.0,260.3 423.5,260.3 424.0,260.3 424.5,260.3 425.0,260.3 425.5,260.3 426.0,260.3 426.5,260.3 427.0,260.3 427.5,260.3 428.0,260.2 428.5,260.2 429.0,260.2 429.5,260.2 430.0,260.2 430.5,260.2 431.0,260.2 431.5,260.2 432.0,260.1 432.5,260.1 433.0,260.1 433.5,260.1 434.0,260.0 434.5,260.0 435.0,259.9 435.5,259.9 436.0,259.8 436.5,259.8 437.0,259.7 437.5,259.6 438.0,259.6 438.5,259.5 439.0,259.4 439.5,259.3 440.0,259.2 440.5,259.0 441.0,258.9 441.5,258.7 442.0,258.6 442.5,258.4 443.0,258.2 443.5,258.0 444.0,257.7 444.5,257.5 445.0,257.2 445.5,256.9 446.0,256.6 446.5,256.3 447.0,255.9 447.5,255.5 448.0,255.1 448.5,254.7 449.0,254.3 449.5,253.8 450.0,253.3 450.5,252.7 451.0,252.2 451.5,251.6 452.0,251.0 452.5,250.3 453.0,249.6 453.5,248.9 454.0,248.2 454.5,247.4 455.0,246.7 455.5,245.8 456.0,245.0 456.5,244.1 457.0,243.2 457.5,242.3 458.0,241.4 458.5,240.5 459.0,239.5 459.5,238.5 460.0,237.5 460.5,236.5 461.0,235.5 461.5,234.4 462.0,233.4 462.5,232.3 463.0,231.3 463.5,230.3 464.0,229.2 464.5,228.2 465.0,227.2 465.5,226.2 466.0,225.2 466.5,224.2 467.0,223.2 467.5,222.3 468.0,221.4 468.5,220.5 469.0,219.7 469.5,218.8 470.0,218.1 470.5,217.3 471.0,216.6 471.5,215.9 472.0,215.3 472.5,214.7 473.0,214.2 473.5,213.7 474.0,213.2 474.5,212.8 475.0,212.5 475.5,212.2 476.0,211.9 476.5,211.7 477.0,211.6 477.5,211.5 478.0,211.4 478.5,211.4 479.0,211.5 479.5,211.6 480.0,211.8 480.5,212.0 481.0,212.2 481.5,212.5 482.0,212.8 482.5,213.2 483.0,213.6 483.5,214.1 484.0,214.6 484.5,215.1 485.0,215.7 485.5,216.3 486.0,216.9 486.5,217.6 487.0,218.3 487.5,219.0 488.0,219.7 488.5,220.5 489.0,221.3 489.5,222.1 490.0,222.9 490.5,223.7 491.0,224.5 491.5,225.4 492.0,226.2 492.5,227.1 493.0,228.0 493.5,228.8 494.0,229.7 494.5,230.6 495.0,231.4 495.5,232.3 496.0,233.2 496.5,234.0 497.0,234.9 497.5,235.7 498.0,236.5 498.5,237.4 499.0,238.2 499.5,239.0 500.0,239.7 500.5,240.5 501.0,241.3 501.5,242.0 502.0,242.7 502.5,243.4 503.0,244.1 503.5,244.8 504.0,245.5 504.5,246.1 505.0,246.7 505.5,247.4 506.0,247.9 506.5,248.5 507.0,249.1 507.5,249.6 508.0,250.1 508.5,250.6 509.0,251.1 509.5,251.6 510.0,252.0 510.5,252.5 511.0,252.9 511.5,253.3 512.0,253.7 512.5,254.1 513.0,254.4 513.5,254.7 514.0,255.1 514.5,255.4 515.0,255.7 515.5,256.0 516.0,256.2 516.5,256.5 517.0,256.7 517.5,257.0 518.0,257.2 518.5,257.4 519.0,257.6 519.5,257.8 520.0,258.0 520.5,258.1 521.0,258.3 521.5,258.4 522.0,258.6 522.5,258.7 523.0,258.8 523.5,258.9 524.0,259.0 524.5,259.1 525.0,259.2 525.5,259.3 526.0,259.4 526.5,259.5 527.0,259.6 527.5,259.6 528.0,259.7 528.5,259.7 529.0,259.8 529.5,259.8 530.0,259.9 530.5,259.9 531.0,260.0 531.5,260.0 532.0,260.0 532.5,260.1 533.0,260.1 533.5,260.1 534.0,260.1 534.5,260.2 535.0,260.2 535.5,260.2 536.0,260.2 536.5,260.2 537.0,260.2 537.5,260.2 538.0,260.2 538.5,260.2 539.0,260.3 539.5,260.3 540.0,260.3 540.5,260.3 541.0,260.3 541.5,260.3 542.0,260.3 542.5,260.3 543.0,260.3 543.5,260.3 544.0,260.3 544.5,260.3 545.0,260.3 545.5,260.3 546.0,260.3 546.5,260.3 547.0,260.3 547.5,260.3 548.0,260.3 548.5,260.3 549.0,260.3 549.5,260.3 550.0,260.3 550.5,260.3 551.0,260.3 551.5,260.3 552.0,260.3 552.5,260.3 553.0,260.3 553.5,260.3 554.0,260.3 554.5,260.3 555.0,260.3 555.5,260.3 556.0,260.3 556.5,260.3 557.0,260.3 557.5,260.3 558.0,260.3 558.5,260.3 559.0,260.3 559.5,260.3 560.0,260.3 560.5,260.3 561.0,260.3 561.5,260.3 562.0,260.3 562.5,260.3 563.0,260.3 563.5,260.3 564.0,260.3 564.5,260.3 565.0,260.3 565.5,260.3 566.0,260.3 566.5,260.3 567.0,260.3 567.5,260.3 568.0,260.3 568.5,260.3 569.0,260.3 569.5,260.3 570.0,260.3 570.5,260.3 571.0,260.3 571.5,260.3 572.0,260.3 572.5,260.3 573.0,260.3 573.5,260.3 574.0,260.3 574.5,260.3 575.0,260.3 575.5,260.3 576.0,260.3 576.5,260.3 577.0,260.3 577.5,260.3 578.0,260.3 578.5,260.3 579.0,260.3 579.5,260.3 580.0,260.3 580.5,260.3 581.0,260.3 581.5,260.3 582.0,260.3 582.5,260.3 583.0,260.3 583.5,260.3 584.0,260.3 584.5,260.3 585.0,260.3 585.5,260.3 586.0,260.3 586.5,260.3 587.0,260.3 587.5,260.3 588.0,260.3 588.5,260.3 589.0,260.3 589.5,260.3 590.0,260.3 590.5,260.3 591.0,260.3 591.5,260.3 592.0,260.3 592.5,260.3 593.0,260.3 593.5,260.3 594.0,260.3 594.5,260.3 595.0,260.3 595.5,260.3 596.0,260.3 596.5,260.3 597.0,260.3 597.5,260.3 598.0,260.3 598.5,260.3 599.0,260.3 599.5,260.3 600.0,260.3 600.5,260.3 601.0,260.3 601.5,260.3 602.0,260.3 602.5,260.3 603.0,260.3 603.5,260.3 604.0,260.3 604.5,260.3 605.0,260.3 605.5,260.3 606.0,260.3 606.5,260.3 607.0,260.3 607.5,260.3 608.0,260.3 608.5,260.3 609.0,260.3 609.5,260.3 610.0,260.3 610.5,260.3 611.0,260.3 611.5,260.3 612.0,260.3 612.5,260.3 613.0,260.3 613.5,260.3 614.0,260.3 614.5,260.3 615.0,260.3 615.5,260.3 616.0,260.3 616.5,260.3 617.0,260.3 617.5,260.3 618.0,260.3 618.5,260.3 619.0,260.3 619.5,260.3 620.0,260.3 620.5,260.3 621.0,260.3 621.5,260.3 622.0,260.3 622.5,260.3 623.0,260.3 623.5,260.3 624.0,260.3 624.5,260.3 625.0,260.3 625.5,260.3 626.0,260.3 626.5,260.3 627.0,260.3 627.5,260.3 628.0,260.3 628.5,260.3 629.0,260.3 629.5,260.3 630.0,260.3 630.5,260.3 631.0,260.3 631.5,260.3 632.0,260.3 632.5,260.3 633.0,260.3 633.5,260.3 634.0,260.3 634.5,260.3 635.0,260.3 635.5,260.3 636.0,260.3 636.5,260.3 637.0,260.3 637.5,260.3 638.0,260.3 638.5,260.3 639.0,260.3 639.5,260.3 640.0,260.3 640.5,260.3 641.0,260.3 641.5,260.3 642.0,260.3 642.5,260.3 643.0,260.3 643.5,260.3 644.0,260.3 644.5,260.3 645.0,260.3 645.5,260.3 646.0,260.3 646.5,260.3 647.0,260.3 647.5,260.3 648.0,260.3 648.5,260.3 649.0,260.3 649.5,260.3 650.0,260.3 650.5,260.3 651.0,260.3 651.5,260.3 652.0,260.3 652.5,260.3 653.0,260.3 653.5,260.3 654.0,260.3 654.5,260.3 655.0,260.3 655.5,260.3 656.0,260.3 656.5,260.3 657.0,260.3 657.5,260.3 658.0,260.3 658.5,260.3 659.0,260.3 659.5,260.3 660.0,260.3 660.5,260.3 661.0,260.3 661.5,260.3 662.0,260.3 662.5,260.3 663.0,260.3 663.5,260.3 664.0,260.3 664.5,260.3 665.0,260.3 665.5,260.3 666.0,260.3 666.5,260.3 667.0,260.3 667.5,260.3 668.0,260.3 668.5,260.3 669.0,260.3 669.5,260.3 670.0,260.3 670.5,260.3 671.0,260.3 671.5,260.3 672.0,260.3 672.5,260.3 673.0,260.3 673.5,260.3 674.0,260.3 674.5,260.3 675.0,260.3 675.5,260.3"/><g clip-path="url(#cr)"><g fill="#A2142F" fill-opacity="0.6" stroke="#000" stroke-width="0.7" stroke-opacity="0.58"><rect x="490.40" y="259.80" width="5.36" height="0.50"/><rect x="495.76" y="259.20" width="5.14" height="1.10"/><rect x="500.90" y="258.16" width="4.94" height="2.14"/><rect x="505.84" y="256.54" width="4.75" height="3.76"/><rect x="510.60" y="254.27" width="4.58" height="6.03"/><rect x="515.18" y="251.41" width="4.42" height="8.89"/><rect x="519.60" y="248.13" width="4.27" height="12.17"/><rect x="523.87" y="244.74" width="4.13" height="15.56"/><rect x="527.99" y="241.55" width="4.00" height="18.75"/><rect x="531.99" y="238.91" width="3.88" height="21.39"/><rect x="535.87" y="237.04" width="3.76" height="23.26"/><rect x="539.63" y="236.08" width="3.65" height="24.22"/><rect x="543.28" y="236.03" width="3.55" height="24.27"/><rect x="546.83" y="236.81" width="3.45" height="23.49"/><rect x="550.28" y="238.26" width="3.36" height="22.04"/><rect x="553.64" y="240.19" width="3.27" height="20.11"/><rect x="556.91" y="242.42" width="3.19" height="17.88"/><rect x="560.10" y="244.76" width="3.11" height="15.54"/><rect x="563.21" y="247.08" width="3.03" height="13.22"/><rect x="566.24" y="249.28" width="2.96" height="11.02"/><rect x="569.21" y="251.29" width="2.90" height="9.01"/><rect x="572.10" y="253.06" width="2.83" height="7.24"/><rect x="574.93" y="254.59" width="2.77" height="5.71"/><rect x="577.70" y="255.88" width="2.71" height="4.42"/><rect x="580.41" y="256.93" width="2.65" height="3.37"/><rect x="583.06" y="257.79" width="2.60" height="2.51"/><rect x="585.66" y="258.46" width="2.54" height="1.84"/><rect x="588.20" y="258.99" width="2.49" height="1.31"/><rect x="590.70" y="259.38" width="2.45" height="0.92"/><rect x="593.14" y="259.68" width="2.40" height="0.62"/></g></g><polyline clip-path="url(#cr2)" fill="none" stroke="#a8401c" stroke-width="1.6" stroke-linejoin="round" points="385.5,260.3 386.0,260.3 386.5,260.3 387.0,260.3 387.5,260.3 388.0,260.3 388.5,260.3 389.0,260.3 389.5,260.3 390.0,260.3 390.5,260.3 391.0,260.3 391.5,260.3 392.0,260.3 392.5,260.3 393.0,260.3 393.5,260.3 394.0,260.3 394.5,260.3 395.0,260.3 395.5,260.3 396.0,260.3 396.5,260.3 397.0,260.3 397.5,260.3 398.0,260.3 398.5,260.3 399.0,260.3 399.5,260.3 400.0,260.3 400.5,260.3 401.0,260.3 401.5,260.3 402.0,260.3 402.5,260.3 403.0,260.3 403.5,260.3 404.0,260.3 404.5,260.3 405.0,260.3 405.5,260.3 406.0,260.3 406.5,260.3 407.0,260.3 407.5,260.3 408.0,260.3 408.5,260.3 409.0,260.3 409.5,260.3 410.0,260.3 410.5,260.3 411.0,260.3 411.5,260.3 412.0,260.3 412.5,260.3 413.0,260.3 413.5,260.3 414.0,260.3 414.5,260.3 415.0,260.3 415.5,260.3 416.0,260.3 416.5,260.3 417.0,260.3 417.5,260.3 418.0,260.3 418.5,260.3 419.0,260.3 419.5,260.3 420.0,260.3 420.5,260.3 421.0,260.3 421.5,260.3 422.0,260.3 422.5,260.3 423.0,260.3 423.5,260.3 424.0,260.3 424.5,260.3 425.0,260.3 425.5,260.3 426.0,260.3 426.5,260.3 427.0,260.3 427.5,260.3 428.0,260.3 428.5,260.3 429.0,260.3 429.5,260.3 430.0,260.3 430.5,260.3 431.0,260.3 431.5,260.3 432.0,260.3 432.5,260.3 433.0,260.3 433.5,260.3 434.0,260.3 434.5,260.3 435.0,260.3 435.5,260.3 436.0,260.3 436.5,260.3 437.0,260.3 437.5,260.3 438.0,260.3 438.5,260.3 439.0,260.3 439.5,260.3 440.0,260.3 440.5,260.3 441.0,260.3 441.5,260.3 442.0,260.3 442.5,260.3 443.0,260.3 443.5,260.3 444.0,260.3 444.5,260.3 445.0,260.3 445.5,260.3 446.0,260.3 446.5,260.3 447.0,260.3 447.5,260.3 448.0,260.3 448.5,260.3 449.0,260.3 449.5,260.3 450.0,260.3 450.5,260.3 451.0,260.3 451.5,260.3 452.0,260.3 452.5,260.3 453.0,260.3 453.5,260.3 454.0,260.3 454.5,260.3 455.0,260.3 455.5,260.3 456.0,260.3 456.5,260.3 457.0,260.3 457.5,260.3 458.0,260.3 458.5,260.3 459.0,260.3 459.5,260.3 460.0,260.3 460.5,260.3 461.0,260.3 461.5,260.3 462.0,260.3 462.5,260.3 463.0,260.3 463.5,260.3 464.0,260.3 464.5,260.3 465.0,260.3 465.5,260.3 466.0,260.3 466.5,260.3 467.0,260.3 467.5,260.3 468.0,260.3 468.5,260.3 469.0,260.3 469.5,260.3 470.0,260.3 470.5,260.3 471.0,260.3 471.5,260.3 472.0,260.3 472.5,260.3 473.0,260.3 473.5,260.3 474.0,260.3 474.5,260.3 475.0,260.3 475.5,260.3 476.0,260.3 476.5,260.3 477.0,260.3 477.5,260.3 478.0,260.3 478.5,260.3 479.0,260.3 479.5,260.2 480.0,260.2 480.5,260.2 481.0,260.2 481.5,260.2 482.0,260.2 482.5,260.2 483.0,260.2 483.5,260.2 484.0,260.2 484.5,260.2 485.0,260.2 485.5,260.1 486.0,260.1 486.5,260.1 487.0,260.1 487.5,260.1 488.0,260.1 488.5,260.0 489.0,260.0 489.5,260.0 490.0,260.0 490.5,259.9 491.0,259.9 491.5,259.9 492.0,259.8 492.5,259.8 493.0,259.7 493.5,259.7 494.0,259.7 494.5,259.6 495.0,259.5 495.5,259.5 496.0,259.4 496.5,259.4 497.0,259.3 497.5,259.2 498.0,259.1 498.5,259.1 499.0,259.0 499.5,258.9 500.0,258.8 500.5,258.7 501.0,258.6 501.5,258.5 502.0,258.3 502.5,258.2 503.0,258.1 503.5,257.9 504.0,257.8 504.5,257.6 505.0,257.5 505.5,257.3 506.0,257.1 506.5,256.9 507.0,256.7 507.5,256.5 508.0,256.3 508.5,256.1 509.0,255.9 509.5,255.7 510.0,255.4 510.5,255.2 511.0,254.9 511.5,254.6 512.0,254.4 512.5,254.1 513.0,253.8 513.5,253.5 514.0,253.2 514.5,252.9 515.0,252.6 515.5,252.2 516.0,251.9 516.5,251.5 517.0,251.2 517.5,250.8 518.0,250.5 518.5,250.1 519.0,249.7 519.5,249.3 520.0,249.0 520.5,248.6 521.0,248.2 521.5,247.8 522.0,247.4 522.5,247.0 523.0,246.6 523.5,246.2 524.0,245.7 524.5,245.3 525.0,244.9 525.5,244.5 526.0,244.1 526.5,243.7 527.0,243.3 527.5,242.9 528.0,242.5 528.5,242.2 529.0,241.8 529.5,241.4 530.0,241.1 530.5,240.7 531.0,240.3 531.5,240.0 532.0,239.7 532.5,239.4 533.0,239.1 533.5,238.8 534.0,238.5 534.5,238.2 535.0,237.9 535.5,237.7 536.0,237.5 536.5,237.3 537.0,237.1 537.5,236.9 538.0,236.7 538.5,236.5 539.0,236.4 539.5,236.3 540.0,236.2 540.5,236.1 541.0,236.0 541.5,236.0 542.0,235.9 542.5,235.9 543.0,235.9 543.5,235.9 544.0,236.0 544.5,236.0 545.0,236.1 545.5,236.1 546.0,236.2 546.5,236.4 547.0,236.5 547.5,236.6 548.0,236.8 548.5,237.0 549.0,237.1 549.5,237.4 550.0,237.6 550.5,237.8 551.0,238.0 551.5,238.3 552.0,238.6 552.5,238.8 553.0,239.1 553.5,239.4 554.0,239.7 554.5,240.0 555.0,240.4 555.5,240.7 556.0,241.0 556.5,241.4 557.0,241.7 557.5,242.1 558.0,242.4 558.5,242.8 559.0,243.2 559.5,243.5 560.0,243.9 560.5,244.3 561.0,244.7 561.5,245.0 562.0,245.4 562.5,245.8 563.0,246.2 563.5,246.5 564.0,246.9 564.5,247.3 565.0,247.7 565.5,248.0 566.0,248.4 566.5,248.8 567.0,249.1 567.5,249.5 568.0,249.8 568.5,250.2 569.0,250.5 569.5,250.8 570.0,251.2 570.5,251.5 571.0,251.8 571.5,252.1 572.0,252.4 572.5,252.7 573.0,253.0 573.5,253.3 574.0,253.6 574.5,253.9 575.0,254.2 575.5,254.4 576.0,254.7 576.5,254.9 577.0,255.2 577.5,255.4 578.0,255.6 578.5,255.8 579.0,256.1 579.5,256.3 580.0,256.5 580.5,256.6 581.0,256.8 581.5,257.0 582.0,257.2 582.5,257.4 583.0,257.5 583.5,257.7 584.0,257.8 584.5,258.0 585.0,258.1 585.5,258.2 586.0,258.3 586.5,258.5 587.0,258.6 587.5,258.7 588.0,258.8 588.5,258.9 589.0,259.0 589.5,259.1 590.0,259.2 590.5,259.2 591.0,259.3 591.5,259.4 592.0,259.5 592.5,259.5 593.0,259.6 593.5,259.6 594.0,259.7 594.5,259.7 595.0,259.8 595.5,259.8 596.0,259.9 596.5,259.9 597.0,259.9 597.5,260.0 598.0,260.0 598.5,260.0 599.0,260.1 599.5,260.1 600.0,260.1 600.5,260.1 601.0,260.1 601.5,260.2 602.0,260.2 602.5,260.2 603.0,260.2 603.5,260.2 604.0,260.2 604.5,260.2 605.0,260.2 605.5,260.3 606.0,260.3 606.5,260.3 607.0,260.3 607.5,260.3 608.0,260.3 608.5,260.3 609.0,260.3 609.5,260.3 610.0,260.3 610.5,260.3 611.0,260.3 611.5,260.3 612.0,260.3 612.5,260.3 613.0,260.3 613.5,260.3 614.0,260.3 614.5,260.3 615.0,260.3 615.5,260.3 616.0,260.3 616.5,260.3 617.0,260.3 617.5,260.3 618.0,260.3 618.5,260.3 619.0,260.3 619.5,260.3 620.0,260.3 620.5,260.3 621.0,260.3 621.5,260.3 622.0,260.3 622.5,260.3 623.0,260.3 623.5,260.3 624.0,260.3 624.5,260.3 625.0,260.3 625.5,260.3 626.0,260.3 626.5,260.3 627.0,260.3 627.5,260.3 628.0,260.3 628.5,260.3 629.0,260.3 629.5,260.3 630.0,260.3 630.5,260.3 631.0,260.3 631.5,260.3 632.0,260.3 632.5,260.3 633.0,260.3 633.5,260.3 634.0,260.3 634.5,260.3 635.0,260.3 635.5,260.3 636.0,260.3 636.5,260.3 637.0,260.3 637.5,260.3 638.0,260.3 638.5,260.3 639.0,260.3 639.5,260.3 640.0,260.3 640.5,260.3 641.0,260.3 641.5,260.3 642.0,260.3 642.5,260.3 643.0,260.3 643.5,260.3 644.0,260.3 644.5,260.3 645.0,260.3 645.5,260.3 646.0,260.3 646.5,260.3 647.0,260.3 647.5,260.3 648.0,260.3 648.5,260.3 649.0,260.3 649.5,260.3 650.0,260.3 650.5,260.3 651.0,260.3 651.5,260.3 652.0,260.3 652.5,260.3 653.0,260.3 653.5,260.3 654.0,260.3 654.5,260.3 655.0,260.3 655.5,260.3 656.0,260.3 656.5,260.3 657.0,260.3 657.5,260.3 658.0,260.3 658.5,260.3 659.0,260.3 659.5,260.3 660.0,260.3 660.5,260.3 661.0,260.3 661.5,260.3 662.0,260.3 662.5,260.3 663.0,260.3 663.5,260.3 664.0,260.3 664.5,260.3 665.0,260.3 665.5,260.3 666.0,260.3 666.5,260.3 667.0,260.3 667.5,260.3 668.0,260.3 668.5,260.3 669.0,260.3 669.5,260.3 670.0,260.3 670.5,260.3 671.0,260.3 671.5,260.3 672.0,260.3 672.5,260.3 673.0,260.3 673.5,260.3 674.0,260.3 674.5,260.3 675.0,260.3 675.5,260.3"/><g clip-path="url(#cr)"><g fill="#D95319" fill-opacity="0.6" stroke="#000" stroke-width="0.7" stroke-opacity="0.58"><rect x="543.28" y="259.34" width="5.86" height="0.96"/><rect x="549.14" y="258.50" width="5.60" height="1.80"/><rect x="554.74" y="257.26" width="5.36" height="3.04"/><rect x="560.10" y="255.59" width="5.14" height="4.71"/><rect x="565.24" y="253.60" width="4.94" height="6.70"/><rect x="570.18" y="251.42" width="4.75" height="8.88"/><rect x="574.93" y="249.29" width="4.58" height="11.01"/><rect x="579.51" y="247.44" width="4.42" height="12.86"/><rect x="583.93" y="246.05" width="4.27" height="14.25"/><rect x="588.20" y="245.25" width="4.13" height="15.05"/><rect x="592.33" y="245.06" width="4.00" height="15.24"/><rect x="596.33" y="245.46" width="3.88" height="14.84"/><rect x="600.21" y="246.33" width="3.76" height="13.97"/><rect x="603.97" y="247.56" width="3.65" height="12.74"/><rect x="607.62" y="249.00" width="3.55" height="11.30"/><rect x="611.16" y="250.54" width="3.45" height="9.76"/><rect x="614.61" y="252.08" width="3.36" height="8.22"/><rect x="617.97" y="253.53" width="3.27" height="6.77"/><rect x="621.24" y="254.84" width="3.19" height="5.46"/><rect x="624.43" y="256.00" width="3.11" height="4.30"/><rect x="627.54" y="256.98" width="3.03" height="3.32"/><rect x="630.58" y="257.80" width="2.96" height="2.50"/><rect x="633.54" y="258.45" width="2.90" height="1.85"/><rect x="636.44" y="258.97" width="2.83" height="1.33"/><rect x="639.27" y="259.37" width="2.77" height="0.93"/><rect x="642.04" y="259.67" width="2.71" height="0.63"/></g></g><polyline clip-path="url(#cr2)" fill="none" stroke="#f06028" stroke-width="1.6" stroke-linejoin="round" points="385.5,260.3 386.0,260.3 386.5,260.3 387.0,260.3 387.5,260.3 388.0,260.3 388.5,260.3 389.0,260.3 389.5,260.3 390.0,260.3 390.5,260.3 391.0,260.3 391.5,260.3 392.0,260.3 392.5,260.3 393.0,260.3 393.5,260.3 394.0,260.3 394.5,260.3 395.0,260.3 395.5,260.3 396.0,260.3 396.5,260.3 397.0,260.3 397.5,260.3 398.0,260.3 398.5,260.3 399.0,260.3 399.5,260.3 400.0,260.3 400.5,260.3 401.0,260.3 401.5,260.3 402.0,260.3 402.5,260.3 403.0,260.3 403.5,260.3 404.0,260.3 404.5,260.3 405.0,260.3 405.5,260.3 406.0,260.3 406.5,260.3 407.0,260.3 407.5,260.3 408.0,260.3 408.5,260.3 409.0,260.3 409.5,260.3 410.0,260.3 410.5,260.3 411.0,260.3 411.5,260.3 412.0,260.3 412.5,260.3 413.0,260.3 413.5,260.3 414.0,260.3 414.5,260.3 415.0,260.3 415.5,260.3 416.0,260.3 416.5,260.3 417.0,260.3 417.5,260.3 418.0,260.3 418.5,260.3 419.0,260.3 419.5,260.3 420.0,260.3 420.5,260.3 421.0,260.3 421.5,260.3 422.0,260.3 422.5,260.3 423.0,260.3 423.5,260.3 424.0,260.3 424.5,260.3 425.0,260.3 425.5,260.3 426.0,260.3 426.5,260.3 427.0,260.3 427.5,260.3 428.0,260.3 428.5,260.3 429.0,260.3 429.5,260.3 430.0,260.3 430.5,260.3 431.0,260.3 431.5,260.3 432.0,260.3 432.5,260.3 433.0,260.3 433.5,260.3 434.0,260.3 434.5,260.3 435.0,260.3 435.5,260.3 436.0,260.3 436.5,260.3 437.0,260.3 437.5,260.3 438.0,260.3 438.5,260.3 439.0,260.3 439.5,260.3 440.0,260.3 440.5,260.3 441.0,260.3 441.5,260.3 442.0,260.3 442.5,260.3 443.0,260.3 443.5,260.3 444.0,260.3 444.5,260.3 445.0,260.3 445.5,260.3 446.0,260.3 446.5,260.3 447.0,260.3 447.5,260.3 448.0,260.3 448.5,260.3 449.0,260.3 449.5,260.3 450.0,260.3 450.5,260.3 451.0,260.3 451.5,260.3 452.0,260.3 452.5,260.3 453.0,260.3 453.5,260.3 454.0,260.3 454.5,260.3 455.0,260.3 455.5,260.3 456.0,260.3 456.5,260.3 457.0,260.3 457.5,260.3 458.0,260.3 458.5,260.3 459.0,260.3 459.5,260.3 460.0,260.3 460.5,260.3 461.0,260.3 461.5,260.3 462.0,260.3 462.5,260.3 463.0,260.3 463.5,260.3 464.0,260.3 464.5,260.3 465.0,260.3 465.5,260.3 466.0,260.3 466.5,260.3 467.0,260.3 467.5,260.3 468.0,260.3 468.5,260.3 469.0,260.3 469.5,260.3 470.0,260.3 470.5,260.3 471.0,260.3 471.5,260.3 472.0,260.3 472.5,260.3 473.0,260.3 473.5,260.3 474.0,260.3 474.5,260.3 475.0,260.3 475.5,260.3 476.0,260.3 476.5,260.3 477.0,260.3 477.5,260.3 478.0,260.3 478.5,260.3 479.0,260.3 479.5,260.3 480.0,260.3 480.5,260.3 481.0,260.3 481.5,260.3 482.0,260.3 482.5,260.3 483.0,260.3 483.5,260.3 484.0,260.3 484.5,260.3 485.0,260.3 485.5,260.3 486.0,260.3 486.5,260.3 487.0,260.3 487.5,260.3 488.0,260.3 488.5,260.3 489.0,260.3 489.5,260.3 490.0,260.3 490.5,260.3 491.0,260.3 491.5,260.3 492.0,260.3 492.5,260.3 493.0,260.3 493.5,260.3 494.0,260.3 494.5,260.3 495.0,260.3 495.5,260.3 496.0,260.3 496.5,260.3 497.0,260.3 497.5,260.3 498.0,260.3 498.5,260.3 499.0,260.3 499.5,260.3 500.0,260.3 500.5,260.3 501.0,260.3 501.5,260.3 502.0,260.3 502.5,260.3 503.0,260.3 503.5,260.3 504.0,260.3 504.5,260.3 505.0,260.3 505.5,260.3 506.0,260.3 506.5,260.3 507.0,260.3 507.5,260.3 508.0,260.3 508.5,260.3 509.0,260.3 509.5,260.3 510.0,260.3 510.5,260.3 511.0,260.3 511.5,260.3 512.0,260.3 512.5,260.3 513.0,260.3 513.5,260.3 514.0,260.3 514.5,260.3 515.0,260.3 515.5,260.3 516.0,260.3 516.5,260.3 517.0,260.3 517.5,260.3 518.0,260.3 518.5,260.3 519.0,260.3 519.5,260.3 520.0,260.3 520.5,260.3 521.0,260.3 521.5,260.3 522.0,260.3 522.5,260.3 523.0,260.3 523.5,260.3 524.0,260.3 524.5,260.3 525.0,260.2 525.5,260.2 526.0,260.2 526.5,260.2 527.0,260.2 527.5,260.2 528.0,260.2 528.5,260.2 529.0,260.2 529.5,260.2 530.0,260.2 530.5,260.2 531.0,260.2 531.5,260.1 532.0,260.1 532.5,260.1 533.0,260.1 533.5,260.1 534.0,260.1 534.5,260.1 535.0,260.0 535.5,260.0 536.0,260.0 536.5,260.0 537.0,260.0 537.5,259.9 538.0,259.9 538.5,259.9 539.0,259.9 539.5,259.8 540.0,259.8 540.5,259.8 541.0,259.7 541.5,259.7 542.0,259.7 542.5,259.6 543.0,259.6 543.5,259.5 544.0,259.5 544.5,259.4 545.0,259.4 545.5,259.3 546.0,259.2 546.5,259.2 547.0,259.1 547.5,259.0 548.0,259.0 548.5,258.9 549.0,258.8 549.5,258.7 550.0,258.7 550.5,258.6 551.0,258.5 551.5,258.4 552.0,258.3 552.5,258.2 553.0,258.1 553.5,257.9 554.0,257.8 554.5,257.7 555.0,257.6 555.5,257.4 556.0,257.3 556.5,257.2 557.0,257.0 557.5,256.9 558.0,256.7 558.5,256.6 559.0,256.4 559.5,256.2 560.0,256.1 560.5,255.9 561.0,255.7 561.5,255.5 562.0,255.4 562.5,255.2 563.0,255.0 563.5,254.8 564.0,254.6 564.5,254.4 565.0,254.2 565.5,254.0 566.0,253.7 566.5,253.5 567.0,253.3 567.5,253.1 568.0,252.9 568.5,252.6 569.0,252.4 569.5,252.2 570.0,251.9 570.5,251.7 571.0,251.5 571.5,251.2 572.0,251.0 572.5,250.8 573.0,250.5 573.5,250.3 574.0,250.1 574.5,249.8 575.0,249.6 575.5,249.4 576.0,249.2 576.5,248.9 577.0,248.7 577.5,248.5 578.0,248.3 578.5,248.1 579.0,247.9 579.5,247.7 580.0,247.5 580.5,247.3 581.0,247.1 581.5,246.9 582.0,246.8 582.5,246.6 583.0,246.4 583.5,246.3 584.0,246.1 584.5,246.0 585.0,245.9 585.5,245.7 586.0,245.6 586.5,245.5 587.0,245.4 587.5,245.3 588.0,245.3 588.5,245.2 589.0,245.1 589.5,245.1 590.0,245.0 590.5,245.0 591.0,245.0 591.5,245.0 592.0,244.9 592.5,245.0 593.0,245.0 593.5,245.0 594.0,245.0 594.5,245.1 595.0,245.1 595.5,245.2 596.0,245.2 596.5,245.3 597.0,245.4 597.5,245.5 598.0,245.6 598.5,245.7 599.0,245.8 599.5,245.9 600.0,246.0 600.5,246.2 601.0,246.3 601.5,246.5 602.0,246.6 602.5,246.8 603.0,247.0 603.5,247.1 604.0,247.3 604.5,247.5 605.0,247.7 605.5,247.9 606.0,248.1 606.5,248.3 607.0,248.5 607.5,248.7 608.0,248.9 608.5,249.1 609.0,249.3 609.5,249.6 610.0,249.8 610.5,250.0 611.0,250.2 611.5,250.4 612.0,250.7 612.5,250.9 613.0,251.1 613.5,251.3 614.0,251.6 614.5,251.8 615.0,252.0 615.5,252.2 616.0,252.4 616.5,252.7 617.0,252.9 617.5,253.1 618.0,253.3 618.5,253.5 619.0,253.7 619.5,253.9 620.0,254.1 620.5,254.3 621.0,254.5 621.5,254.7 622.0,254.9 622.5,255.1 623.0,255.3 623.5,255.5 624.0,255.7 624.5,255.8 625.0,256.0 625.5,256.2 626.0,256.3 626.5,256.5 627.0,256.7 627.5,256.8 628.0,256.9 628.5,257.1 629.0,257.2 629.5,257.4 630.0,257.5 630.5,257.6 631.0,257.8 631.5,257.9 632.0,258.0 632.5,258.1 633.0,258.2 633.5,258.3 634.0,258.4 634.5,258.5 635.0,258.6 635.5,258.7 636.0,258.8 636.5,258.9 637.0,259.0 637.5,259.0 638.0,259.1 638.5,259.2 639.0,259.2 639.5,259.3 640.0,259.4 640.5,259.4 641.0,259.5 641.5,259.5 642.0,259.6 642.5,259.6 643.0,259.7 643.5,259.7 644.0,259.8 644.5,259.8 645.0,259.8 645.5,259.9 646.0,259.9 646.5,259.9 647.0,260.0 647.5,260.0 648.0,260.0 648.5,260.0 649.0,260.1 649.5,260.1 650.0,260.1 650.5,260.1 651.0,260.1 651.5,260.2 652.0,260.2 652.5,260.2 653.0,260.2 653.5,260.2 654.0,260.2 654.5,260.2 655.0,260.2 655.5,260.2 656.0,260.2 656.5,260.3 657.0,260.3 657.5,260.3 658.0,260.3 658.5,260.3 659.0,260.3 659.5,260.3 660.0,260.3 660.5,260.3 661.0,260.3 661.5,260.3 662.0,260.3 662.5,260.3 663.0,260.3 663.5,260.3 664.0,260.3 664.5,260.3 665.0,260.3 665.5,260.3 666.0,260.3 666.5,260.3 667.0,260.3 667.5,260.3 668.0,260.3 668.5,260.3 669.0,260.3 669.5,260.3 670.0,260.3 670.5,260.3 671.0,260.3 671.5,260.3 672.0,260.3 672.5,260.3 673.0,260.3 673.5,260.3 674.0,260.3 674.5,260.3 675.0,260.3 675.5,260.3"/><g clip-path="url(#cr)"><g fill="#7E2F8E" fill-opacity="0.6" stroke="#000" stroke-width="0.7" stroke-opacity="0.58"><rect x="611.16" y="259.77" width="3.45" height="0.53"/><rect x="614.61" y="259.64" width="3.36" height="0.66"/><rect x="617.97" y="259.47" width="3.27" height="0.83"/><rect x="621.24" y="259.26" width="3.19" height="1.04"/><rect x="624.43" y="259.00" width="3.11" height="1.30"/><rect x="627.54" y="258.68" width="3.03" height="1.62"/><rect x="630.58" y="258.29" width="2.96" height="2.01"/><rect x="633.54" y="257.82" width="2.90" height="2.48"/><rect x="636.44" y="257.26" width="2.83" height="3.04"/><rect x="639.27" y="256.58" width="2.77" height="3.72"/><rect x="642.04" y="255.78" width="2.71" height="4.52"/><rect x="644.74" y="254.83" width="2.65" height="5.47"/><rect x="647.40" y="253.73" width="2.60" height="6.57"/><rect x="649.99" y="252.34" width="2.54" height="7.96"/><rect x="652.54" y="250.88" width="2.49" height="9.42"/><rect x="655.03" y="249.82" width="2.45" height="10.48"/><rect x="657.48" y="247.97" width="2.40" height="12.33"/><rect x="659.88" y="246.32" width="2.35" height="13.98"/><rect x="662.23" y="245.25" width="2.31" height="15.05"/><rect x="664.54" y="244.38" width="2.27" height="15.92"/><rect x="666.81" y="243.51" width="2.23" height="16.79"/><rect x="669.04" y="242.83" width="2.19" height="17.47"/><rect x="671.23" y="242.34" width="2.15" height="17.96"/><rect x="673.38" y="237.19" width="2.12" height="23.11"/></g></g><polyline clip-path="url(#cr2)" fill="none" stroke="#8030a0" stroke-width="1.5" stroke-linejoin="round" points="385.5,260.3 386.0,260.3 386.5,260.3 387.0,260.3 387.5,260.3 388.0,260.3 388.5,260.3 389.0,260.3 389.5,260.3 390.0,260.3 390.5,260.3 391.0,260.3 391.5,260.3 392.0,260.3 392.5,260.3 393.0,260.3 393.5,260.3 394.0,260.3 394.5,260.3 395.0,260.3 395.5,260.3 396.0,260.3 396.5,260.3 397.0,260.3 397.5,260.3 398.0,260.3 398.5,260.3 399.0,260.3 399.5,260.3 400.0,260.3 400.5,260.3 401.0,260.3 401.5,260.3 402.0,260.3 402.5,260.3 403.0,260.3 403.5,260.3 404.0,260.3 404.5,260.3 405.0,260.3 405.5,260.3 406.0,260.3 406.5,260.3 407.0,260.3 407.5,260.3 408.0,260.3 408.5,260.3 409.0,260.3 409.5,260.3 410.0,260.3 410.5,260.3 411.0,260.3 411.5,260.3 412.0,260.3 412.5,260.3 413.0,260.3 413.5,260.3 414.0,260.3 414.5,260.3 415.0,260.3 415.5,260.3 416.0,260.3 416.5,260.3 417.0,260.3 417.5,260.3 418.0,260.3 418.5,260.3 419.0,260.3 419.5,260.3 420.0,260.3 420.5,260.3 421.0,260.3 421.5,260.3 422.0,260.3 422.5,260.3 423.0,260.3 423.5,260.3 424.0,260.3 424.5,260.3 425.0,260.3 425.5,260.3 426.0,260.3 426.5,260.3 427.0,260.3 427.5,260.3 428.0,260.3 428.5,260.3 429.0,260.3 429.5,260.3 430.0,260.3 430.5,260.3 431.0,260.3 431.5,260.3 432.0,260.3 432.5,260.3 433.0,260.3 433.5,260.3 434.0,260.3 434.5,260.3 435.0,260.3 435.5,260.3 436.0,260.3 436.5,260.3 437.0,260.3 437.5,260.3 438.0,260.3 438.5,260.3 439.0,260.3 439.5,260.3 440.0,260.3 440.5,260.3 441.0,260.3 441.5,260.3 442.0,260.3 442.5,260.3 443.0,260.3 443.5,260.3 444.0,260.3 444.5,260.3 445.0,260.3 445.5,260.3 446.0,260.3 446.5,260.3 447.0,260.3 447.5,260.3 448.0,260.3 448.5,260.3 449.0,260.3 449.5,260.3 450.0,260.3 450.5,260.3 451.0,260.3 451.5,260.3 452.0,260.3 452.5,260.3 453.0,260.3 453.5,260.3 454.0,260.3 454.5,260.3 455.0,260.3 455.5,260.3 456.0,260.3 456.5,260.3 457.0,260.3 457.5,260.3 458.0,260.3 458.5,260.3 459.0,260.3 459.5,260.3 460.0,260.3 460.5,260.3 461.0,260.3 461.5,260.3 462.0,260.3 462.5,260.3 463.0,260.3 463.5,260.3 464.0,260.3 464.5,260.3 465.0,260.3 465.5,260.3 466.0,260.3 466.5,260.3 467.0,260.3 467.5,260.3 468.0,260.3 468.5,260.3 469.0,260.3 469.5,260.3 470.0,260.3 470.5,260.3 471.0,260.3 471.5,260.3 472.0,260.3 472.5,260.3 473.0,260.3 473.5,260.3 474.0,260.3 474.5,260.3 475.0,260.3 475.5,260.3 476.0,260.3 476.5,260.3 477.0,260.3 477.5,260.3 478.0,260.3 478.5,260.3 479.0,260.3 479.5,260.3 480.0,260.3 480.5,260.3 481.0,260.3 481.5,260.3 482.0,260.3 482.5,260.3 483.0,260.3 483.5,260.3 484.0,260.3 484.5,260.3 485.0,260.3 485.5,260.3 486.0,260.3 486.5,260.3 487.0,260.3 487.5,260.3 488.0,260.3 488.5,260.3 489.0,260.3 489.5,260.3 490.0,260.3 490.5,260.3 491.0,260.3 491.5,260.3 492.0,260.3 492.5,260.3 493.0,260.3 493.5,260.3 494.0,260.3 494.5,260.3 495.0,260.3 495.5,260.3 496.0,260.3 496.5,260.3 497.0,260.3 497.5,260.3 498.0,260.3 498.5,260.3 499.0,260.3 499.5,260.3 500.0,260.3 500.5,260.3 501.0,260.3 501.5,260.3 502.0,260.3 502.5,260.3 503.0,260.3 503.5,260.3 504.0,260.3 504.5,260.3 505.0,260.3 505.5,260.3 506.0,260.3 506.5,260.3 507.0,260.3 507.5,260.3 508.0,260.3 508.5,260.3 509.0,260.3 509.5,260.3 510.0,260.3 510.5,260.3 511.0,260.3 511.5,260.3 512.0,260.3 512.5,260.3 513.0,260.3 513.5,260.3 514.0,260.3 514.5,260.3 515.0,260.3 515.5,260.3 516.0,260.3 516.5,260.3 517.0,260.3 517.5,260.3 518.0,260.3 518.5,260.3 519.0,260.3 519.5,260.3 520.0,260.3 520.5,260.3 521.0,260.3 521.5,260.3 522.0,260.3 522.5,260.3 523.0,260.3 523.5,260.3 524.0,260.3 524.5,260.3 525.0,260.3 525.5,260.3 526.0,260.3 526.5,260.3 527.0,260.3 527.5,260.3 528.0,260.3 528.5,260.3 529.0,260.3 529.5,260.3 530.0,260.3 530.5,260.3 531.0,260.3 531.5,260.3 532.0,260.3 532.5,260.3 533.0,260.3 533.5,260.3 534.0,260.3 534.5,260.3 535.0,260.3 535.5,260.3 536.0,260.3 536.5,260.3 537.0,260.3 537.5,260.3 538.0,260.3 538.5,260.3 539.0,260.3 539.5,260.3 540.0,260.3 540.5,260.3 541.0,260.3 541.5,260.3 542.0,260.3 542.5,260.3 543.0,260.3 543.5,260.3 544.0,260.3 544.5,260.3 545.0,260.3 545.5,260.3 546.0,260.3 546.5,260.3 547.0,260.3 547.5,260.3 548.0,260.3 548.5,260.3 549.0,260.3 549.5,260.3 550.0,260.3 550.5,260.3 551.0,260.3 551.5,260.3 552.0,260.3 552.5,260.3 553.0,260.3 553.5,260.3 554.0,260.3 554.5,260.3 555.0,260.3 555.5,260.3 556.0,260.3 556.5,260.3 557.0,260.3 557.5,260.3 558.0,260.3 558.5,260.3 559.0,260.3 559.5,260.3 560.0,260.3 560.5,260.3 561.0,260.3 561.5,260.3 562.0,260.3 562.5,260.3 563.0,260.3 563.5,260.3 564.0,260.3 564.5,260.3 565.0,260.3 565.5,260.3 566.0,260.3 566.5,260.3 567.0,260.3 567.5,260.3 568.0,260.3 568.5,260.3 569.0,260.3 569.5,260.3 570.0,260.3 570.5,260.3 571.0,260.3 571.5,260.3 572.0,260.3 572.5,260.3 573.0,260.3 573.5,260.3 574.0,260.3 574.5,260.3 575.0,260.3 575.5,260.3 576.0,260.3 576.5,260.2 577.0,260.2 577.5,260.2 578.0,260.2 578.5,260.2 579.0,260.2 579.5,260.2 580.0,260.2 580.5,260.2 581.0,260.2 581.5,260.2 582.0,260.2 582.5,260.2 583.0,260.2 583.5,260.2 584.0,260.2 584.5,260.2 585.0,260.2 585.5,260.2 586.0,260.2 586.5,260.2 587.0,260.2 587.5,260.2 588.0,260.2 588.5,260.2 589.0,260.2 589.5,260.2 590.0,260.2 590.5,260.2 591.0,260.2 591.5,260.2 592.0,260.2 592.5,260.2 593.0,260.2 593.5,260.2 594.0,260.2 594.5,260.2 595.0,260.1 595.5,260.1 596.0,260.1 596.5,260.1 597.0,260.1 597.5,260.1 598.0,260.1 598.5,260.1 599.0,260.1 599.5,260.1 600.0,260.1 600.5,260.1 601.0,260.1 601.5,260.1 602.0,260.1 602.5,260.1 603.0,260.0 603.5,260.0 604.0,260.0 604.5,260.0 605.0,260.0 605.5,260.0 606.0,260.0 606.5,260.0 607.0,260.0 607.5,260.0 608.0,259.9 608.5,259.9 609.0,259.9 609.5,259.9 610.0,259.9 610.5,259.9 611.0,259.9 611.5,259.9 612.0,259.8 612.5,259.8 613.0,259.8 613.5,259.8 614.0,259.8 614.5,259.8 615.0,259.7 615.5,259.7 616.0,259.7 616.5,259.7 617.0,259.7 617.5,259.6 618.0,259.6 618.5,259.6 619.0,259.6 619.5,259.5 620.0,259.5 620.5,259.5 621.0,259.4 621.5,259.4 622.0,259.4 622.5,259.4 623.0,259.3 623.5,259.3 624.0,259.2 624.5,259.2 625.0,259.2 625.5,259.1 626.0,259.1 626.5,259.0 627.0,259.0 627.5,259.0 628.0,258.9 628.5,258.9 629.0,258.8 629.5,258.8 630.0,258.7 630.5,258.6 631.0,258.6 631.5,258.5 632.0,258.4 632.5,258.4 633.0,258.3 633.5,258.2 634.0,258.2 634.5,258.1 635.0,258.0 635.5,257.9 636.0,257.8 636.5,257.7 637.0,257.7 637.5,257.6 638.0,257.5 638.5,257.4 639.0,257.2 639.5,257.1 640.0,257.0 640.5,256.9 641.0,256.8 641.5,256.6 642.0,256.5 642.5,256.4 643.0,256.2 643.5,256.1 644.0,255.9 644.5,255.8 645.0,255.6 645.5,255.4 646.0,255.3 646.5,255.1 647.0,254.9 647.5,254.7 648.0,254.5 648.5,254.3 649.0,254.1 649.5,253.9 650.0,253.6 650.5,253.4 651.0,253.2 651.5,252.9 652.0,252.7 652.5,252.4 653.0,252.1 653.5,251.9 654.0,251.6 654.5,251.3 655.0,251.0 655.5,250.7 656.0,250.3 656.5,250.0 657.0,249.7 657.5,249.3 658.0,249.0 658.5,248.6 659.0,248.3 659.5,247.9 660.0,247.5 660.5,247.1 661.0,246.7 661.5,246.3 662.0,245.9 662.5,245.5 663.0,245.1 663.5,244.7 664.0,244.3 664.5,243.9 665.0,243.5 665.5,243.1 666.0,242.7 666.5,242.3 667.0,241.9 667.5,241.6 668.0,241.2 668.5,240.9 669.0,240.6 669.5,240.4 670.0,240.2 670.5,240.0 671.0,239.9 671.5,239.9 672.0,239.9 672.5,240.1 673.0,240.5 673.5,241.0 674.0,241.8 674.5,243.0 675.0,245.0 675.5,249.4"/><g font-family="Liberation Serif, serif" fill="#1a1a1a"><text x="88.69" y="275.2" font-size="12.0" text-anchor="middle" textLength="10.8" lengthAdjust="spacingAndGlyphs" >50</text><text x="449.84" y="275.2" font-size="12.0" text-anchor="middle" textLength="10.8" lengthAdjust="spacingAndGlyphs" >50</text><text x="179.91" y="275.2" font-size="12.0" text-anchor="middle" textLength="16.4" lengthAdjust="spacingAndGlyphs" >100</text><text x="537.13" y="275.2" font-size="12.0" text-anchor="middle" textLength="16.4" lengthAdjust="spacingAndGlyphs" >100</text><text x="233.27" y="275.2" font-size="12.0" text-anchor="middle" textLength="16.4" lengthAdjust="spacingAndGlyphs" >150</text><text x="588.20" y="275.2" font-size="12.0" text-anchor="middle" textLength="16.4" lengthAdjust="spacingAndGlyphs" >150</text><text x="271.14" y="275.2" font-size="12.0" text-anchor="middle" textLength="16.4" lengthAdjust="spacingAndGlyphs" >200</text><text x="624.43" y="275.2" font-size="12.0" text-anchor="middle" textLength="16.4" lengthAdjust="spacingAndGlyphs" >200</text><text x="300.50" y="275.2" font-size="12.0" text-anchor="middle" textLength="16.4" lengthAdjust="spacingAndGlyphs" >250</text><text x="652.54" y="275.2" font-size="12.0" text-anchor="middle" textLength="16.4" lengthAdjust="spacingAndGlyphs" >250</text><text x="324.50" y="275.2" font-size="12.0" text-anchor="middle" textLength="16.4" lengthAdjust="spacingAndGlyphs" >300</text><text x="675.50" y="275.2" font-size="12.0" text-anchor="middle" textLength="16.4" lengthAdjust="spacingAndGlyphs" >300</text><text x="29.9" y="264.10" font-size="12.0" text-anchor="end" textLength="5.8" lengthAdjust="spacingAndGlyphs" >0</text><text x="29.9" y="223.68" font-size="12.0" text-anchor="end" textLength="5.8" lengthAdjust="spacingAndGlyphs" >2</text><text x="29.9" y="183.27" font-size="12.0" text-anchor="end" textLength="5.8" lengthAdjust="spacingAndGlyphs" >4</text><text x="29.9" y="142.85" font-size="12.0" text-anchor="end" textLength="5.8" lengthAdjust="spacingAndGlyphs" >6</text><text x="29.9" y="102.43" font-size="12.0" text-anchor="end" textLength="5.8" lengthAdjust="spacingAndGlyphs" >8</text><text x="29.9" y="62.02" font-size="12.0" text-anchor="end" textLength="11.5" lengthAdjust="spacingAndGlyphs" >10</text><text x="29.9" y="21.60" font-size="12.0" text-anchor="end" textLength="11.5" lengthAdjust="spacingAndGlyphs" >12</text><text x="380.1" y="263.90" font-size="12.0" text-anchor="end" textLength="5.6" lengthAdjust="spacingAndGlyphs" >0</text><text x="380.1" y="215.36" font-size="12.0" text-anchor="end" textLength="19.4" lengthAdjust="spacingAndGlyphs" >0.05</text><text x="380.1" y="166.82" font-size="12.0" text-anchor="end" textLength="13.4" lengthAdjust="spacingAndGlyphs" >0.1</text><text x="380.1" y="118.28" font-size="12.0" text-anchor="end" textLength="19.4" lengthAdjust="spacingAndGlyphs" >0.15</text><text x="380.1" y="69.74" font-size="12.0" text-anchor="end" textLength="13.4" lengthAdjust="spacingAndGlyphs" >0.2</text><text x="380.1" y="21.20" font-size="12.0" text-anchor="end" textLength="19.4" lengthAdjust="spacingAndGlyphs" >0.25</text></g><g font-family="Liberation Serif, serif" fill="#000"><text x="140.2" y="11.3" font-size="13.2" text-anchor="start" textLength="78.2" lengthAdjust="spacingAndGlyphs" >(a) histograms</text><text x="453.9" y="11.3" font-size="13.2" text-anchor="start" textLength="153.8" lengthAdjust="spacingAndGlyphs" >(b) GEV distribution fitting</text><text x="142.00" y="290.8" font-size="13" font-style="italic" textLength="7.2" lengthAdjust="spacingAndGlyphs">n</text><text x="150.30" y="292.4" font-size="8.8" font-style="italic">f</text><text x="161.00" y="290.8" font-size="13" textLength="54.4" lengthAdjust="spacingAndGlyphs">(log-scale)</text><text x="493.60" y="290.8" font-size="13" font-style="italic" textLength="7.2" lengthAdjust="spacingAndGlyphs">n</text><text x="501.90" y="292.4" font-size="8.8" font-style="italic">f</text><text x="512.60" y="290.8" font-size="13" textLength="54.4" lengthAdjust="spacingAndGlyphs">(log-scale)</text><text transform="translate(11.2,177.5) rotate(-90)" font-size="12.8" textLength="76.8" lengthAdjust="spacingAndGlyphs">Count density</text><text transform="translate(352.6,148.2) rotate(-90)" font-size="13" font-style="italic" textLength="18.2" lengthAdjust="spacingAndGlyphs">pdf</text><text x="34.9" y="14.4" font-size="12.2">×<tspan dx="0.9">10</tspan><tspan font-size="6.6" dy="-5.2" dx="0.4">4</tspan></text></g><g font-family="Liberation Serif, serif" fill="#000"><text x="89.6" y="120.50" font-size="10.2" text-anchor="start" textLength="27.4" lengthAdjust="spacingAndGlyphs" >Notes:</text><text x="89.6" y="132.88" font-size="10.2" text-anchor="start" textLength="183.4" lengthAdjust="spacingAndGlyphs" >- The freuquency of observations in each</text><text x="89.6" y="145.25" font-size="10.2" text-anchor="start" textLength="161.6" lengthAdjust="spacingAndGlyphs" >histogram is scaled by width of bin.</text><text x="89.6" y="157.62" font-size="10.2" text-anchor="start" textLength="202.3" lengthAdjust="spacingAndGlyphs" >- The area (height×width) of each bar is the</text><text x="89.6" y="170.00" font-size="10.2" text-anchor="start" textLength="152.9" lengthAdjust="spacingAndGlyphs" >number of observations in the bin</text></g><rect x="179.5" y="26.4" width="136.5" height="72.19999999999999" fill="#fff" stroke="#6e6e6e" stroke-width="0.9"/><rect x="182.2" y="29.60" width="31.5" height="8.4" fill="#0072BD" fill-opacity="0.6" stroke="#000" stroke-width="0.6"/><g font-family="Liberation Serif, serif"><text x="215.30" y="36.80" font-size="9.3" font-style="italic">q</text><text x="222.60" y="36.80" font-size="9.3" fill="#555" textLength="8.30" lengthAdjust="spacingAndGlyphs">=</text><text x="232.30" y="36.80" font-size="9.3" textLength="19.40" lengthAdjust="spacingAndGlyphs">0.05,</text><text x="255.20" y="36.80" font-size="9.3" textLength="39.40" lengthAdjust="spacingAndGlyphs">bin width</text><text x="297.30" y="36.80" font-size="9.3" fill="#555" textLength="8.30" lengthAdjust="spacingAndGlyphs">=</text><text x="308.00" y="36.80" font-size="9.3">1</text></g><rect x="182.2" y="41.28" width="31.5" height="8.4" fill="#D95319" fill-opacity="0.6" stroke="#000" stroke-width="0.6"/><g font-family="Liberation Serif, serif"><text x="215.30" y="48.48" font-size="9.3" font-style="italic">q</text><text x="222.60" y="48.48" font-size="9.3" fill="#555" textLength="8.30" lengthAdjust="spacingAndGlyphs">=</text><text x="232.30" y="48.48" font-size="9.3" textLength="19.40" lengthAdjust="spacingAndGlyphs">0.10,</text><text x="255.20" y="48.48" font-size="9.3" textLength="39.40" lengthAdjust="spacingAndGlyphs">bin width</text><text x="297.30" y="48.48" font-size="9.3" fill="#555" textLength="8.30" lengthAdjust="spacingAndGlyphs">=</text><text x="308.00" y="48.48" font-size="9.3">1</text></g><rect x="182.2" y="52.96" width="31.5" height="8.4" fill="#EDB120" fill-opacity="0.6" stroke="#000" stroke-width="0.6"/><g font-family="Liberation Serif, serif"><text x="215.30" y="60.16" font-size="9.3" font-style="italic">q</text><text x="222.60" y="60.16" font-size="9.3" fill="#555" textLength="8.30" lengthAdjust="spacingAndGlyphs">=</text><text x="232.30" y="60.16" font-size="9.3" textLength="19.40" lengthAdjust="spacingAndGlyphs">0.25,</text><text x="255.20" y="60.16" font-size="9.3" textLength="39.40" lengthAdjust="spacingAndGlyphs">bin width</text><text x="297.30" y="60.16" font-size="9.3" fill="#555" textLength="8.30" lengthAdjust="spacingAndGlyphs">=</text><text x="308.00" y="60.16" font-size="9.3">2</text></g><rect x="182.2" y="64.64" width="31.5" height="8.4" fill="#7E2F8E" fill-opacity="0.6" stroke="#000" stroke-width="0.6"/><g font-family="Liberation Serif, serif"><text x="215.30" y="71.84" font-size="9.3" font-style="italic">q</text><text x="222.60" y="71.84" font-size="9.3" fill="#555" textLength="8.30" lengthAdjust="spacingAndGlyphs">=</text><text x="232.30" y="71.84" font-size="9.3" textLength="19.40" lengthAdjust="spacingAndGlyphs">0.35,</text><text x="255.20" y="71.84" font-size="9.3" textLength="39.40" lengthAdjust="spacingAndGlyphs">bin width</text><text x="297.30" y="71.84" font-size="9.3" fill="#555" textLength="8.30" lengthAdjust="spacingAndGlyphs">=</text><text x="308.00" y="71.84" font-size="9.3">3</text></g><rect x="182.2" y="76.32" width="31.5" height="8.4" fill="#77AC30" fill-opacity="0.6" stroke="#000" stroke-width="0.6"/><g font-family="Liberation Serif, serif"><text x="215.30" y="83.52" font-size="9.3" font-style="italic">q</text><text x="222.60" y="83.52" font-size="9.3" fill="#555" textLength="8.30" lengthAdjust="spacingAndGlyphs">=</text><text x="232.30" y="83.52" font-size="9.3" textLength="19.40" lengthAdjust="spacingAndGlyphs">0.40,</text><text x="255.20" y="83.52" font-size="9.3" textLength="39.40" lengthAdjust="spacingAndGlyphs">bin width</text><text x="297.30" y="83.52" font-size="9.3" fill="#555" textLength="8.30" lengthAdjust="spacingAndGlyphs">=</text><text x="308.00" y="83.52" font-size="9.3">5</text></g><rect x="182.2" y="88.00" width="31.5" height="8.4" fill="#4DBEEE" fill-opacity="0.6" stroke="#000" stroke-width="0.6"/><g font-family="Liberation Serif, serif"><text x="215.30" y="95.20" font-size="9.3" font-style="italic">q</text><text x="222.60" y="95.20" font-size="9.3" fill="#555" textLength="8.30" lengthAdjust="spacingAndGlyphs">=</text><text x="232.30" y="95.20" font-size="9.3" textLength="19.40" lengthAdjust="spacingAndGlyphs">0.45,</text><text x="255.20" y="95.20" font-size="9.3" textLength="39.40" lengthAdjust="spacingAndGlyphs">bin width</text><text x="297.30" y="95.20" font-size="9.3" fill="#555" textLength="8.30" lengthAdjust="spacingAndGlyphs">=</text><text x="308.00" y="95.20" font-size="9.3">5</text></g><rect x="462.5" y="26.3" width="204.20000000000005" height="141.89999999999998" fill="#fff" stroke="#6e6e6e" stroke-width="0.9"/><rect x="465.4" y="29.60" width="31" height="8.2" fill="#0072BD" fill-opacity="0.6" stroke="#000" stroke-width="0.6"/><g font-family="Liberation Serif, serif"><text x="498.70" y="36.50" font-size="9.3" font-style="italic">q</text><text x="506.00" y="36.50" font-size="9.3" fill="#555" textLength="8.30" lengthAdjust="spacingAndGlyphs">=</text><text x="515.70" y="36.50" font-size="9.3" textLength="19.40" lengthAdjust="spacingAndGlyphs">0.05,</text><text x="538.60" y="36.50" font-size="9.3" textLength="39.40" lengthAdjust="spacingAndGlyphs">bin width</text><text x="580.70" y="36.50" font-size="9.3" fill="#555" textLength="8.30" lengthAdjust="spacingAndGlyphs">=</text><text x="591.40" y="36.50" font-size="9.3">1</text></g><path d="M465.6 45.35H496.3" stroke="#1a1aff" stroke-width="1.5"/><g font-family="Liberation Serif, serif"><text x="499.30" y="48.25" font-size="9.3" textLength="24.00" lengthAdjust="spacingAndGlyphs">GEV(</text><text x="523.20" y="48.25" font-size="9.3" font-style="italic">k</text><text x="531.00" y="48.25" font-size="9.3" fill="#555" textLength="8.30" lengthAdjust="spacingAndGlyphs">=</text><text x="541.40" y="48.25" font-size="9.3" textLength="31.00" lengthAdjust="spacingAndGlyphs">−0.095,</text><text x="575.10" y="48.25" font-size="9.3" font-style="italic">σ</text><text x="583.50" y="48.25" font-size="9.3" fill="#555" textLength="8.30" lengthAdjust="spacingAndGlyphs">=</text><text x="593.80" y="48.25" font-size="9.3" textLength="23.80" lengthAdjust="spacingAndGlyphs">1.724,</text><text x="620.00" y="48.25" font-size="9.3" font-style="italic">μ</text><text x="628.40" y="48.25" font-size="9.3" fill="#555" textLength="8.30" lengthAdjust="spacingAndGlyphs">=</text><text x="638.40" y="48.25" font-size="9.3" textLength="24.40" lengthAdjust="spacingAndGlyphs">35.70)</text></g><rect x="465.4" y="52.90" width="31" height="8.2" fill="#EDB120" fill-opacity="0.6" stroke="#000" stroke-width="0.6"/><g font-family="Liberation Serif, serif"><text x="498.70" y="59.80" font-size="9.3" font-style="italic">q</text><text x="506.00" y="59.80" font-size="9.3" fill="#555" textLength="8.30" lengthAdjust="spacingAndGlyphs">=</text><text x="515.70" y="59.80" font-size="9.3" textLength="19.40" lengthAdjust="spacingAndGlyphs">0.10,</text><text x="538.60" y="59.80" font-size="9.3" textLength="39.40" lengthAdjust="spacingAndGlyphs">bin width</text><text x="580.70" y="59.80" font-size="9.3" fill="#555" textLength="8.30" lengthAdjust="spacingAndGlyphs">=</text><text x="591.40" y="59.80" font-size="9.3">1</text></g><path d="M465.6 68.65H496.3" stroke="#e8891c" stroke-width="1.5"/><g font-family="Liberation Serif, serif"><text x="499.30" y="71.55" font-size="9.3" textLength="24.00" lengthAdjust="spacingAndGlyphs">GEV(</text><text x="523.20" y="71.55" font-size="9.3" font-style="italic">k</text><text x="531.00" y="71.55" font-size="9.3" fill="#555" textLength="8.30" lengthAdjust="spacingAndGlyphs">=</text><text x="541.40" y="71.55" font-size="9.3" textLength="31.00" lengthAdjust="spacingAndGlyphs">−0.136,</text><text x="575.10" y="71.55" font-size="9.3" font-style="italic">σ</text><text x="583.50" y="71.55" font-size="9.3" fill="#555" textLength="8.30" lengthAdjust="spacingAndGlyphs">=</text><text x="593.80" y="71.55" font-size="9.3" textLength="23.80" lengthAdjust="spacingAndGlyphs">2.863,</text><text x="620.00" y="71.55" font-size="9.3" font-style="italic">μ</text><text x="628.40" y="71.55" font-size="9.3" fill="#555" textLength="8.30" lengthAdjust="spacingAndGlyphs">=</text><text x="638.40" y="71.55" font-size="9.3" textLength="24.40" lengthAdjust="spacingAndGlyphs">39.68)</text></g><rect x="465.4" y="76.20" width="31" height="8.2" fill="#77AC30" fill-opacity="0.6" stroke="#000" stroke-width="0.6"/><g font-family="Liberation Serif, serif"><text x="498.70" y="83.10" font-size="9.3" font-style="italic">q</text><text x="506.00" y="83.10" font-size="9.3" fill="#555" textLength="8.30" lengthAdjust="spacingAndGlyphs">=</text><text x="515.70" y="83.10" font-size="9.3" textLength="19.40" lengthAdjust="spacingAndGlyphs">0.25,</text><text x="538.60" y="83.10" font-size="9.3" textLength="39.40" lengthAdjust="spacingAndGlyphs">bin width</text><text x="580.70" y="83.10" font-size="9.3" fill="#555" textLength="8.30" lengthAdjust="spacingAndGlyphs">=</text><text x="591.40" y="83.10" font-size="9.3">2</text></g><path d="M465.6 91.95H496.3" stroke="#11911c" stroke-width="1.5"/><g font-family="Liberation Serif, serif"><text x="499.30" y="94.85" font-size="9.3" textLength="24.00" lengthAdjust="spacingAndGlyphs">GEV(</text><text x="523.20" y="94.85" font-size="9.3" font-style="italic">k</text><text x="531.00" y="94.85" font-size="9.3" fill="#555" textLength="8.30" lengthAdjust="spacingAndGlyphs">=</text><text x="541.40" y="94.85" font-size="9.3" textLength="31.00" lengthAdjust="spacingAndGlyphs">−0.128,</text><text x="575.10" y="94.85" font-size="9.3" font-style="italic">σ</text><text x="583.50" y="94.85" font-size="9.3" fill="#555" textLength="8.30" lengthAdjust="spacingAndGlyphs">=</text><text x="593.80" y="94.85" font-size="9.3" textLength="23.80" lengthAdjust="spacingAndGlyphs">7.371,</text><text x="620.00" y="94.85" font-size="9.3" font-style="italic">μ</text><text x="628.40" y="94.85" font-size="9.3" fill="#555" textLength="8.30" lengthAdjust="spacingAndGlyphs">=</text><text x="638.40" y="94.85" font-size="9.3" textLength="24.40" lengthAdjust="spacingAndGlyphs">61.63)</text></g><rect x="465.4" y="99.50" width="31" height="8.2" fill="#A2142F" fill-opacity="0.6" stroke="#000" stroke-width="0.6"/><g font-family="Liberation Serif, serif"><text x="498.70" y="106.40" font-size="9.3" font-style="italic">q</text><text x="506.00" y="106.40" font-size="9.3" fill="#555" textLength="8.30" lengthAdjust="spacingAndGlyphs">=</text><text x="515.70" y="106.40" font-size="9.3" textLength="19.40" lengthAdjust="spacingAndGlyphs">0.35,</text><text x="538.60" y="106.40" font-size="9.3" textLength="39.40" lengthAdjust="spacingAndGlyphs">bin width</text><text x="580.70" y="106.40" font-size="9.3" fill="#555" textLength="8.30" lengthAdjust="spacingAndGlyphs">=</text><text x="591.40" y="106.40" font-size="9.3">3</text></g><path d="M465.6 115.25H496.3" stroke="#a8401c" stroke-width="1.5"/><g font-family="Liberation Serif, serif"><text x="499.30" y="118.15" font-size="9.3" textLength="24.00" lengthAdjust="spacingAndGlyphs">GEV(</text><text x="523.20" y="118.15" font-size="9.3" font-style="italic">k</text><text x="531.00" y="118.15" font-size="9.3" fill="#555" textLength="8.30" lengthAdjust="spacingAndGlyphs">=</text><text x="541.40" y="118.15" font-size="9.3" textLength="31.00" lengthAdjust="spacingAndGlyphs">−0.156,</text><text x="575.10" y="118.15" font-size="9.3" font-style="italic">σ</text><text x="583.50" y="118.15" font-size="9.3" fill="#555" textLength="8.30" lengthAdjust="spacingAndGlyphs">=</text><text x="593.80" y="118.15" font-size="9.3" textLength="23.80" lengthAdjust="spacingAndGlyphs">17.72,</text><text x="620.00" y="118.15" font-size="9.3" font-style="italic">μ</text><text x="628.40" y="118.15" font-size="9.3" fill="#555" textLength="8.30" lengthAdjust="spacingAndGlyphs">=</text><text x="638.40" y="118.15" font-size="9.3" textLength="24.40" lengthAdjust="spacingAndGlyphs">101.3)</text></g><rect x="465.4" y="122.80" width="31" height="8.2" fill="#D95319" fill-opacity="0.6" stroke="#000" stroke-width="0.6"/><g font-family="Liberation Serif, serif"><text x="498.70" y="129.70" font-size="9.3" font-style="italic">q</text><text x="506.00" y="129.70" font-size="9.3" fill="#555" textLength="8.30" lengthAdjust="spacingAndGlyphs">=</text><text x="515.70" y="129.70" font-size="9.3" textLength="19.40" lengthAdjust="spacingAndGlyphs">0.40,</text><text x="538.60" y="129.70" font-size="9.3" textLength="39.40" lengthAdjust="spacingAndGlyphs">bin width</text><text x="580.70" y="129.70" font-size="9.3" fill="#555" textLength="8.30" lengthAdjust="spacingAndGlyphs">=</text><text x="591.40" y="129.70" font-size="9.3">5</text></g><path d="M465.6 138.55H496.3" stroke="#f06028" stroke-width="1.5"/><g font-family="Liberation Serif, serif"><text x="499.30" y="141.45" font-size="9.3" textLength="24.00" lengthAdjust="spacingAndGlyphs">GEV(</text><text x="523.20" y="141.45" font-size="9.3" font-style="italic">k</text><text x="531.00" y="141.45" font-size="9.3" fill="#555" textLength="8.30" lengthAdjust="spacingAndGlyphs">=</text><text x="541.40" y="141.45" font-size="9.3" textLength="31.00" lengthAdjust="spacingAndGlyphs">−0.160,</text><text x="575.10" y="141.45" font-size="9.3" font-style="italic">σ</text><text x="583.50" y="141.45" font-size="9.3" fill="#555" textLength="8.30" lengthAdjust="spacingAndGlyphs">=</text><text x="593.80" y="141.45" font-size="9.3" textLength="23.80" lengthAdjust="spacingAndGlyphs">23.58,</text><text x="620.00" y="141.45" font-size="9.3" font-style="italic">μ</text><text x="628.40" y="141.45" font-size="9.3" fill="#555" textLength="8.30" lengthAdjust="spacingAndGlyphs">=</text><text x="638.40" y="141.45" font-size="9.3" textLength="24.40" lengthAdjust="spacingAndGlyphs">150.7)</text></g><rect x="465.4" y="146.10" width="31" height="8.2" fill="#7E2F8E" fill-opacity="0.6" stroke="#000" stroke-width="0.6"/><g font-family="Liberation Serif, serif"><text x="498.70" y="153.00" font-size="9.3" font-style="italic">q</text><text x="506.00" y="153.00" font-size="9.3" fill="#555" textLength="8.30" lengthAdjust="spacingAndGlyphs">=</text><text x="515.70" y="153.00" font-size="9.3" textLength="19.40" lengthAdjust="spacingAndGlyphs">0.45,</text><text x="538.60" y="153.00" font-size="9.3" textLength="39.40" lengthAdjust="spacingAndGlyphs">bin width</text><text x="580.70" y="153.00" font-size="9.3" fill="#555" textLength="8.30" lengthAdjust="spacingAndGlyphs">=</text><text x="591.40" y="153.00" font-size="9.3">5</text></g><path d="M465.6 161.85H496.3" stroke="#8030a0" stroke-width="1.5"/><g font-family="Liberation Serif, serif"><text x="499.30" y="164.75" font-size="9.3" textLength="24.00" lengthAdjust="spacingAndGlyphs">GEV(</text><text x="523.20" y="164.75" font-size="9.3" font-style="italic">k</text><text x="531.00" y="164.75" font-size="9.3" fill="#555" textLength="8.30" lengthAdjust="spacingAndGlyphs">=</text><text x="541.40" y="164.75" font-size="9.3" textLength="31.00" lengthAdjust="spacingAndGlyphs">−0.795,</text><text x="575.10" y="164.75" font-size="9.3" font-style="italic">σ</text><text x="583.50" y="164.75" font-size="9.3" fill="#555" textLength="8.30" lengthAdjust="spacingAndGlyphs">=</text><text x="593.80" y="164.75" font-size="9.3" textLength="23.80" lengthAdjust="spacingAndGlyphs">27.99,</text><text x="620.00" y="164.75" font-size="9.3" font-style="italic">μ</text><text x="628.40" y="164.75" font-size="9.3" fill="#555" textLength="8.30" lengthAdjust="spacingAndGlyphs">=</text><text x="638.40" y="164.75" font-size="9.3" textLength="24.40" lengthAdjust="spacingAndGlyphs">265.2)</text></g></svg></body></html>
